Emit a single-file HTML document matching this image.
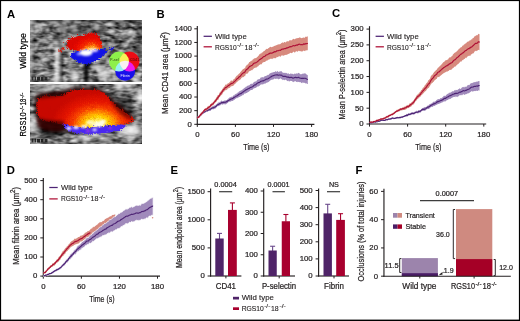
<!DOCTYPE html>
<html><head><meta charset="utf-8"><title>figure</title>
<style>
html,body{margin:0;padding:0;background:#fff;width:520px;height:321px;overflow:hidden;}
svg{display:block;}
.g{will-change:transform;}
text{font-family:"Liberation Sans",sans-serif;}
</style></head><body>
<svg width="520" height="321" viewBox="0 0 520 321">
<rect width="520" height="321" fill="#fff"/>
<g class="g">
<text x="7.00" y="17.60" font-size="11.3" font-weight="bold" fill="#000" >A</text>
<defs>
<filter id="gt1" x="30" y="20" width="112" height="63" filterUnits="userSpaceOnUse" color-interpolation-filters="sRGB">
 <feTurbulence type="fractalNoise" baseFrequency="0.13 0.3" numOctaves="2" seed="3"/>
 <feColorMatrix type="matrix" values="1.1 0 0 0 -0.15  1.1 0 0 0 -0.15  1.1 0 0 0 -0.15  0 0 0 0 1"/>
</filter>
<filter id="gt2" x="30" y="84" width="112" height="60" filterUnits="userSpaceOnUse" color-interpolation-filters="sRGB">
 <feTurbulence type="fractalNoise" baseFrequency="0.12 0.28" numOctaves="2" seed="11"/>
 <feColorMatrix type="matrix" values="1.1 0 0 0 -0.15  1.1 0 0 0 -0.15  1.1 0 0 0 -0.15  0 0 0 0 1"/>
</filter>
<filter id="rag" x="-20%" y="-20%" width="140%" height="140%" color-interpolation-filters="sRGB">
 <feTurbulence type="turbulence" baseFrequency="0.45" numOctaves="2" seed="5" result="t"/>
 <feDisplacementMap in="SourceGraphic" in2="t" scale="4" xChannelSelector="R" yChannelSelector="G" result="d"/>
 <feGaussianBlur in="d" stdDeviation="0.4"/>
</filter>
<filter id="spk" x="-20%" y="-20%" width="140%" height="140%" color-interpolation-filters="sRGB">
 <feTurbulence type="fractalNoise" baseFrequency="0.8" numOctaves="1" seed="2" result="t"/>
 <feColorMatrix in="t" type="matrix" values="0 0 0 0 0.75  0 0 0 0 0.05  0 0 0 0 0  1.6 0 0 0 -0.95" result="dots"/>
 <feComposite in="dots" in2="SourceAlpha" operator="in" result="dc"/>
 <feMerge result="m"><feMergeNode in="SourceGraphic"/><feMergeNode in="dc"/></feMerge>
 <feTurbulence type="turbulence" baseFrequency="0.5" numOctaves="2" seed="8" result="t2"/>
 <feDisplacementMap in="m" in2="t2" scale="4" xChannelSelector="R" yChannelSelector="G" result="d"/>
 <feGaussianBlur in="d" stdDeviation="0.4"/>
</filter>
<filter id="b1" x="-30%" y="-30%" width="160%" height="160%"><feGaussianBlur stdDeviation="1.5"/></filter>
<filter id="b2" x="-30%" y="-30%" width="160%" height="160%"><feGaussianBlur stdDeviation="2.5"/></filter>
<filter id="b06" x="-30%" y="-30%" width="160%" height="160%"><feGaussianBlur stdDeviation="0.65"/></filter>
<filter id="b08" x="-50%" y="-50%" width="200%" height="200%"><feGaussianBlur stdDeviation="0.9"/></filter>
<clipPath id="c1"><rect x="30" y="20" width="112" height="62"/></clipPath>
<clipPath id="c2"><rect x="30" y="83" width="112" height="61"/></clipPath>
<radialGradient id="rg1" gradientUnits="userSpaceOnUse" cx="90" cy="50" r="19" gradientTransform="translate(90 50) scale(1 0.85) translate(-90 -50)"><stop offset="0" stop-color="#fff8d0"/><stop offset="0.14" stop-color="#ffd860"/><stop offset="0.32" stop-color="#ff8a10"/><stop offset="0.55" stop-color="#f42a00"/><stop offset="0.8" stop-color="#ea0c00"/><stop offset="1" stop-color="#dc0600"/></radialGradient>
<radialGradient id="rg2" gradientUnits="userSpaceOnUse" cx="96" cy="123" r="46" gradientTransform="translate(96 123) scale(1 0.7) translate(-96 -123)"><stop offset="0" stop-color="#fffce0"/><stop offset="0.1" stop-color="#fff480"/><stop offset="0.24" stop-color="#ffd400"/><stop offset="0.38" stop-color="#ff9400"/><stop offset="0.52" stop-color="#f84000"/><stop offset="0.72" stop-color="#e41400"/><stop offset="1" stop-color="#c80800"/></radialGradient>
</defs>
<g clip-path="url(#c1)">
<rect x="30" y="20" width="112" height="63" fill="#8c8c8c" filter="url(#gt1)"/>
<g filter="url(#b08)"><ellipse cx="99.8" cy="66.7" rx="4.0" ry="1.3" fill="#fff" opacity="0.72" transform="rotate(6 99.8 66.7)"/><ellipse cx="33.2" cy="49.3" rx="4.4" ry="1.1" fill="#fff" opacity="0.80" transform="rotate(-17 33.2 49.3)"/><ellipse cx="82.5" cy="35.5" rx="3.4" ry="1.1" fill="#fff" opacity="0.36" transform="rotate(-14 82.5 35.5)"/><ellipse cx="61.3" cy="77.7" rx="3.9" ry="0.9" fill="#fff" opacity="0.75" transform="rotate(-16 61.3 77.7)"/><ellipse cx="99.2" cy="28.0" rx="2.0" ry="1.2" fill="#fff" opacity="0.45" transform="rotate(-14 99.2 28.0)"/><ellipse cx="140.0" cy="75.0" rx="2.7" ry="1.3" fill="#fff" opacity="0.62" transform="rotate(-1 140.0 75.0)"/><ellipse cx="52.9" cy="79.3" rx="3.7" ry="1.3" fill="#fff" opacity="0.80" transform="rotate(-12 52.9 79.3)"/><ellipse cx="70.5" cy="30.5" rx="2.4" ry="0.8" fill="#fff" opacity="0.50" transform="rotate(-3 70.5 30.5)"/><ellipse cx="30.4" cy="62.7" rx="2.8" ry="1.0" fill="#fff" opacity="0.76" transform="rotate(-7 30.4 62.7)"/><ellipse cx="65.4" cy="50.3" rx="3.8" ry="0.8" fill="#fff" opacity="0.84" transform="rotate(-19 65.4 50.3)"/><ellipse cx="114.0" cy="73.2" rx="2.0" ry="1.2" fill="#fff" opacity="0.53" transform="rotate(-4 114.0 73.2)"/><ellipse cx="31.0" cy="22.9" rx="2.5" ry="1.3" fill="#fff" opacity="0.45" transform="rotate(1 31.0 22.9)"/><ellipse cx="134.1" cy="79.3" rx="2.9" ry="1.0" fill="#fff" opacity="0.61" transform="rotate(2 134.1 79.3)"/><ellipse cx="42.1" cy="67.1" rx="4.0" ry="1.2" fill="#fff" opacity="0.37" transform="rotate(6 42.1 67.1)"/><ellipse cx="40.2" cy="41.5" rx="3.5" ry="1.3" fill="#fff" opacity="0.52" transform="rotate(6 40.2 41.5)"/><ellipse cx="91.1" cy="39.7" rx="2.8" ry="0.9" fill="#fff" opacity="0.39" transform="rotate(-16 91.1 39.7)"/><ellipse cx="107.2" cy="82.8" rx="2.4" ry="0.8" fill="#fff" opacity="0.84" transform="rotate(-5 107.2 82.8)"/><ellipse cx="75.5" cy="35.0" rx="3.5" ry="1.2" fill="#fff" opacity="0.58" transform="rotate(-8 75.5 35.0)"/><ellipse cx="36.2" cy="77.7" rx="2.1" ry="1.0" fill="#fff" opacity="0.77" transform="rotate(-16 36.2 77.7)"/><ellipse cx="111.9" cy="79.8" rx="3.6" ry="1.2" fill="#fff" opacity="0.40" transform="rotate(-8 111.9 79.8)"/><ellipse cx="46.7" cy="73.2" rx="2.7" ry="1.0" fill="#fff" opacity="0.85" transform="rotate(4 46.7 73.2)"/><ellipse cx="139.3" cy="48.6" rx="3.2" ry="1.2" fill="#fff" opacity="0.59" transform="rotate(-12 139.3 48.6)"/><ellipse cx="75.2" cy="29.2" rx="2.9" ry="1.3" fill="#fff" opacity="0.83" transform="rotate(-2 75.2 29.2)"/><ellipse cx="85.9" cy="41.3" rx="2.2" ry="0.9" fill="#fff" opacity="0.74" transform="rotate(4 85.9 41.3)"/><ellipse cx="70.5" cy="69.5" rx="3.9" ry="1.1" fill="#fff" opacity="0.68" transform="rotate(1 70.5 69.5)"/><ellipse cx="70.7" cy="64.4" rx="2.7" ry="1.0" fill="#fff" opacity="0.73" transform="rotate(-1 70.7 64.4)"/><ellipse cx="62.9" cy="79.6" rx="3.6" ry="1.1" fill="#fff" opacity="0.36" transform="rotate(-5 62.9 79.6)"/><ellipse cx="58.1" cy="62.3" rx="3.2" ry="1.2" fill="#fff" opacity="0.67" transform="rotate(2 58.1 62.3)"/><ellipse cx="69.0" cy="60.6" rx="3.8" ry="1.2" fill="#fff" opacity="0.53" transform="rotate(4 69.0 60.6)"/><ellipse cx="127.4" cy="63.4" rx="4.4" ry="1.3" fill="#fff" opacity="0.61" transform="rotate(-5 127.4 63.4)"/><ellipse cx="48.6" cy="72.7" rx="4.3" ry="1.0" fill="#fff" opacity="0.70" transform="rotate(0 48.6 72.7)"/><ellipse cx="111.8" cy="30.8" rx="4.0" ry="1.1" fill="#fff" opacity="0.68" transform="rotate(-8 111.8 30.8)"/><ellipse cx="99.9" cy="68.8" rx="3.6" ry="1.2" fill="#fff" opacity="0.36" transform="rotate(-16 99.9 68.8)"/><ellipse cx="79.4" cy="61.0" rx="2.5" ry="1.1" fill="#fff" opacity="0.67" transform="rotate(-19 79.4 61.0)"/><ellipse cx="82.8" cy="34.3" rx="2.1" ry="0.9" fill="#fff" opacity="0.51" transform="rotate(-15 82.8 34.3)"/><ellipse cx="51.7" cy="22.2" rx="3.2" ry="1.0" fill="#fff" opacity="0.66" transform="rotate(-3 51.7 22.2)"/><ellipse cx="56.6" cy="76.9" rx="2.0" ry="1.0" fill="#fff" opacity="0.49" transform="rotate(-9 56.6 76.9)"/><ellipse cx="42.9" cy="72.4" rx="2.9" ry="0.8" fill="#fff" opacity="0.66" transform="rotate(-17 42.9 72.4)"/><ellipse cx="91.1" cy="41.4" rx="3.5" ry="1.3" fill="#fff" opacity="0.76" transform="rotate(-8 91.1 41.4)"/><ellipse cx="121.1" cy="60.5" rx="2.9" ry="0.9" fill="#fff" opacity="0.65" transform="rotate(-4 121.1 60.5)"/><ellipse cx="137.2" cy="81.0" rx="3.5" ry="1.0" fill="#fff" opacity="0.80" transform="rotate(-20 137.2 81.0)"/><ellipse cx="42.1" cy="55.6" rx="3.5" ry="0.9" fill="#fff" opacity="0.66" transform="rotate(5 42.1 55.6)"/><ellipse cx="72.1" cy="47.2" rx="2.6" ry="0.9" fill="#fff" opacity="0.84" transform="rotate(-9 72.1 47.2)"/><ellipse cx="137.6" cy="77.6" rx="3.5" ry="0.9" fill="#fff" opacity="0.84" transform="rotate(-6 137.6 77.6)"/><ellipse cx="76.5" cy="40.1" rx="4.5" ry="1.0" fill="#fff" opacity="0.49" transform="rotate(-7 76.5 40.1)"/><ellipse cx="43.7" cy="59.2" rx="3.1" ry="0.9" fill="#fff" opacity="0.74" transform="rotate(3 43.7 59.2)"/><ellipse cx="31.5" cy="53.6" rx="2.7" ry="1.3" fill="#fff" opacity="0.74" transform="rotate(-13 31.5 53.6)"/><ellipse cx="60.0" cy="29.8" rx="4.5" ry="0.9" fill="#fff" opacity="0.65" transform="rotate(-7 60.0 29.8)"/><ellipse cx="102.2" cy="58.0" rx="3.9" ry="0.9" fill="#fff" opacity="0.73" transform="rotate(-12 102.2 58.0)"/><ellipse cx="89.8" cy="41.2" rx="2.7" ry="1.1" fill="#fff" opacity="0.58" transform="rotate(-10 89.8 41.2)"/><ellipse cx="113.4" cy="57.2" rx="2.1" ry="0.9" fill="#fff" opacity="0.58" transform="rotate(6 113.4 57.2)"/><ellipse cx="129.4" cy="54.4" rx="2.0" ry="1.2" fill="#fff" opacity="0.56" transform="rotate(-4 129.4 54.4)"/><ellipse cx="109.3" cy="59.8" rx="3.2" ry="1.3" fill="#fff" opacity="0.54" transform="rotate(-9 109.3 59.8)"/><ellipse cx="125.4" cy="32.4" rx="2.7" ry="1.2" fill="#fff" opacity="0.38" transform="rotate(3 125.4 32.4)"/><ellipse cx="107.8" cy="47.3" rx="2.7" ry="1.2" fill="#fff" opacity="0.81" transform="rotate(-16 107.8 47.3)"/><ellipse cx="83.6" cy="54.6" rx="3.2" ry="1.0" fill="#fff" opacity="0.43" transform="rotate(-4 83.6 54.6)"/><ellipse cx="120.9" cy="24.3" rx="2.6" ry="1.2" fill="#fff" opacity="0.75" transform="rotate(-1 120.9 24.3)"/><ellipse cx="32.9" cy="65.5" rx="4.4" ry="1.3" fill="#fff" opacity="0.70" transform="rotate(-19 32.9 65.5)"/><ellipse cx="124.3" cy="33.8" rx="3.6" ry="1.3" fill="#fff" opacity="0.71" transform="rotate(-16 124.3 33.8)"/><ellipse cx="62.8" cy="77.8" rx="2.4" ry="1.1" fill="#fff" opacity="0.56" transform="rotate(-15 62.8 77.8)"/><ellipse cx="99.7" cy="22.7" rx="2.3" ry="1.0" fill="#fff" opacity="0.39" transform="rotate(-18 99.7 22.7)"/><ellipse cx="94.4" cy="66.8" rx="4.2" ry="0.9" fill="#fff" opacity="0.57" transform="rotate(-11 94.4 66.8)"/><ellipse cx="97.2" cy="50.8" rx="4.3" ry="1.0" fill="#fff" opacity="0.38" transform="rotate(-0 97.2 50.8)"/><ellipse cx="46.9" cy="59.8" rx="3.3" ry="1.3" fill="#fff" opacity="0.63" transform="rotate(-3 46.9 59.8)"/><ellipse cx="59.5" cy="54.8" rx="2.6" ry="1.2" fill="#fff" opacity="0.61" transform="rotate(-16 59.5 54.8)"/><ellipse cx="56.3" cy="43.4" rx="3.8" ry="0.9" fill="#fff" opacity="0.71" transform="rotate(-2 56.3 43.4)"/><ellipse cx="39.5" cy="62.1" rx="2.2" ry="0.9" fill="#fff" opacity="0.65" transform="rotate(-13 39.5 62.1)"/><ellipse cx="128.2" cy="50.3" rx="2.8" ry="1.2" fill="#fff" opacity="0.36" transform="rotate(0 128.2 50.3)"/><ellipse cx="36.0" cy="29.5" rx="4.4" ry="1.1" fill="#fff" opacity="0.46" transform="rotate(-17 36.0 29.5)"/><ellipse cx="138.9" cy="61.9" rx="4.1" ry="0.9" fill="#fff" opacity="0.66" transform="rotate(-10 138.9 61.9)"/><ellipse cx="56.3" cy="41.0" rx="3.5" ry="1.0" fill="#fff" opacity="0.54" transform="rotate(-16 56.3 41.0)"/><ellipse cx="123.1" cy="60.8" rx="4.0" ry="1.0" fill="#fff" opacity="0.78" transform="rotate(-6 123.1 60.8)"/><ellipse cx="96.4" cy="56.1" rx="3.9" ry="1.0" fill="#fff" opacity="0.40" transform="rotate(-19 96.4 56.1)"/><ellipse cx="52.7" cy="22.5" rx="4.2" ry="1.0" fill="#fff" opacity="0.73" transform="rotate(-20 52.7 22.5)"/><ellipse cx="82.7" cy="76.1" rx="3.5" ry="1.0" fill="#fff" opacity="0.58" transform="rotate(-17 82.7 76.1)"/><ellipse cx="47.3" cy="30.0" rx="2.9" ry="1.0" fill="#fff" opacity="0.79" transform="rotate(-16 47.3 30.0)"/><ellipse cx="58.5" cy="37.5" rx="2.4" ry="0.9" fill="#fff" opacity="0.47" transform="rotate(-7 58.5 37.5)"/><ellipse cx="33.6" cy="78.2" rx="2.9" ry="1.3" fill="#fff" opacity="0.69" transform="rotate(-1 33.6 78.2)"/><ellipse cx="82.8" cy="79.6" rx="2.3" ry="1.1" fill="#fff" opacity="0.50" transform="rotate(-1 82.8 79.6)"/><ellipse cx="111.7" cy="30.3" rx="2.5" ry="0.8" fill="#fff" opacity="0.47" transform="rotate(-18 111.7 30.3)"/><ellipse cx="74.9" cy="81.3" rx="2.9" ry="1.0" fill="#fff" opacity="0.58" transform="rotate(-12 74.9 81.3)"/><ellipse cx="112.0" cy="65.2" rx="2.4" ry="0.9" fill="#fff" opacity="0.69" transform="rotate(6 112.0 65.2)"/><ellipse cx="102.3" cy="47.1" rx="4.4" ry="0.8" fill="#fff" opacity="0.38" transform="rotate(2 102.3 47.1)"/><ellipse cx="75.9" cy="22.8" rx="3.4" ry="1.3" fill="#fff" opacity="0.61" transform="rotate(-10 75.9 22.8)"/><ellipse cx="40.5" cy="24.5" rx="4.2" ry="1.0" fill="#fff" opacity="0.82" transform="rotate(-18 40.5 24.5)"/><ellipse cx="57.3" cy="23.2" rx="3.0" ry="0.8" fill="#fff" opacity="0.48" transform="rotate(-9 57.3 23.2)"/><ellipse cx="64.3" cy="23.2" rx="2.1" ry="1.3" fill="#fff" opacity="0.44" transform="rotate(-6 64.3 23.2)"/><ellipse cx="75.1" cy="53.5" rx="2.2" ry="1.0" fill="#fff" opacity="0.40" transform="rotate(-5 75.1 53.5)"/><ellipse cx="133.2" cy="57.7" rx="4.1" ry="0.9" fill="#fff" opacity="0.36" transform="rotate(-5 133.2 57.7)"/><ellipse cx="84.5" cy="56.0" rx="2.9" ry="1.1" fill="#fff" opacity="0.71" transform="rotate(6 84.5 56.0)"/><ellipse cx="64.5" cy="48.3" rx="4.1" ry="0.9" fill="#fff" opacity="0.41" transform="rotate(-11 64.5 48.3)"/><ellipse cx="39.8" cy="68.7" rx="4.0" ry="1.0" fill="#fff" opacity="0.41" transform="rotate(-18 39.8 68.7)"/><ellipse cx="57.4" cy="25.3" rx="3.1" ry="1.1" fill="#fff" opacity="0.47" transform="rotate(-18 57.4 25.3)"/><ellipse cx="108.5" cy="23.0" rx="2.5" ry="0.9" fill="#fff" opacity="0.54" transform="rotate(-17 108.5 23.0)"/><ellipse cx="77.1" cy="39.8" rx="3.9" ry="1.1" fill="#fff" opacity="0.80" transform="rotate(-2 77.1 39.8)"/><ellipse cx="115.1" cy="56.2" rx="3.1" ry="1.2" fill="#fff" opacity="0.68" transform="rotate(7 115.1 56.2)"/><ellipse cx="111.5" cy="64.2" rx="2.7" ry="1.2" fill="#fff" opacity="0.54" transform="rotate(-16 111.5 64.2)"/><ellipse cx="37.4" cy="30.7" rx="2.7" ry="1.1" fill="#fff" opacity="0.49" transform="rotate(-18 37.4 30.7)"/><ellipse cx="115.5" cy="55.1" rx="2.1" ry="0.8" fill="#fff" opacity="0.42" transform="rotate(-10 115.5 55.1)"/><ellipse cx="126.3" cy="79.8" rx="3.5" ry="0.9" fill="#fff" opacity="0.56" transform="rotate(-10 126.3 79.8)"/><ellipse cx="67.0" cy="20.8" rx="3.5" ry="1.2" fill="#fff" opacity="0.71" transform="rotate(-17 67.0 20.8)"/><ellipse cx="89.4" cy="30.8" rx="3.8" ry="1.0" fill="#fff" opacity="0.82" transform="rotate(2 89.4 30.8)"/><ellipse cx="43.2" cy="40.0" rx="4.3" ry="1.0" fill="#fff" opacity="0.57" transform="rotate(-8 43.2 40.0)"/><ellipse cx="116.0" cy="79.0" rx="3.3" ry="1.3" fill="#fff" opacity="0.65" transform="rotate(-17 116.0 79.0)"/><ellipse cx="121.2" cy="46.4" rx="2.1" ry="1.3" fill="#fff" opacity="0.37" transform="rotate(-4 121.2 46.4)"/><ellipse cx="84.0" cy="75.6" rx="3.0" ry="0.9" fill="#fff" opacity="0.49" transform="rotate(-14 84.0 75.6)"/><ellipse cx="93.0" cy="42.5" rx="3.9" ry="0.9" fill="#fff" opacity="0.53" transform="rotate(-13 93.0 42.5)"/><ellipse cx="140.0" cy="72.9" rx="4.1" ry="1.1" fill="#fff" opacity="0.55" transform="rotate(-16 140.0 72.9)"/><ellipse cx="123.1" cy="50.9" rx="2.1" ry="0.9" fill="#fff" opacity="0.40" transform="rotate(0 123.1 50.9)"/><ellipse cx="130.8" cy="32.6" rx="4.0" ry="1.0" fill="#fff" opacity="0.69" transform="rotate(4 130.8 32.6)"/><ellipse cx="99.8" cy="70.4" rx="2.9" ry="0.8" fill="#fff" opacity="0.61" transform="rotate(-4 99.8 70.4)"/><ellipse cx="50.7" cy="44.5" rx="2.8" ry="0.8" fill="#fff" opacity="0.51" transform="rotate(-9 50.7 44.5)"/><ellipse cx="83.3" cy="64.3" rx="3.0" ry="1.3" fill="#fff" opacity="0.76" transform="rotate(6 83.3 64.3)"/><ellipse cx="107.6" cy="62.2" rx="3.3" ry="1.2" fill="#fff" opacity="0.53" transform="rotate(-3 107.6 62.2)"/><ellipse cx="106.1" cy="52.9" rx="2.7" ry="0.8" fill="#fff" opacity="0.39" transform="rotate(-10 106.1 52.9)"/><ellipse cx="95.0" cy="67.9" rx="3.8" ry="1.0" fill="#fff" opacity="0.81" transform="rotate(-12 95.0 67.9)"/><ellipse cx="110.2" cy="24.5" rx="3.9" ry="1.1" fill="#fff" opacity="0.83" transform="rotate(5 110.2 24.5)"/><ellipse cx="107.0" cy="72.8" rx="3.8" ry="1.1" fill="#fff" opacity="0.45" transform="rotate(-6 107.0 72.8)"/><ellipse cx="130.4" cy="35.1" rx="4.4" ry="1.1" fill="#fff" opacity="0.55" transform="rotate(-20 130.4 35.1)"/><ellipse cx="73.7" cy="31.2" rx="3.6" ry="1.2" fill="#fff" opacity="0.81" transform="rotate(-3 73.7 31.2)"/><ellipse cx="73.3" cy="26.9" rx="3.7" ry="1.1" fill="#fff" opacity="0.71" transform="rotate(-10 73.3 26.9)"/><ellipse cx="129.3" cy="33.4" rx="2.8" ry="0.9" fill="#fff" opacity="0.66" transform="rotate(5 129.3 33.4)"/><ellipse cx="48.8" cy="59.9" rx="3.9" ry="0.9" fill="#fff" opacity="0.38" transform="rotate(-4 48.8 59.9)"/><ellipse cx="123.0" cy="75.4" rx="3.8" ry="1.0" fill="#fff" opacity="0.56" transform="rotate(-5 123.0 75.4)"/><ellipse cx="131.3" cy="39.0" rx="2.7" ry="1.1" fill="#fff" opacity="0.83" transform="rotate(-15 131.3 39.0)"/><ellipse cx="33.4" cy="27.3" rx="3.4" ry="1.1" fill="#fff" opacity="0.44" transform="rotate(-15 33.4 27.3)"/><ellipse cx="96.6" cy="60.7" rx="3.7" ry="1.2" fill="#fff" opacity="0.38" transform="rotate(-6 96.6 60.7)"/><ellipse cx="123.5" cy="80.3" rx="2.8" ry="1.2" fill="#fff" opacity="0.67" transform="rotate(6 123.5 80.3)"/><ellipse cx="55.7" cy="63.9" rx="4.1" ry="1.0" fill="#fff" opacity="0.40" transform="rotate(-15 55.7 63.9)"/><ellipse cx="47.5" cy="25.8" rx="2.4" ry="1.1" fill="#fff" opacity="0.40" transform="rotate(1 47.5 25.8)"/><ellipse cx="112.5" cy="71.4" rx="4.0" ry="1.2" fill="#fff" opacity="0.81" transform="rotate(7 112.5 71.4)"/><ellipse cx="100.0" cy="80.8" rx="2.3" ry="0.9" fill="#fff" opacity="0.38" transform="rotate(-14 100.0 80.8)"/><ellipse cx="71.9" cy="48.9" rx="3.7" ry="1.2" fill="#fff" opacity="0.39" transform="rotate(-9 71.9 48.9)"/><ellipse cx="90.9" cy="43.6" rx="2.3" ry="1.1" fill="#fff" opacity="0.54" transform="rotate(-1 90.9 43.6)"/><ellipse cx="85.5" cy="80.6" rx="4.4" ry="0.8" fill="#fff" opacity="0.73" transform="rotate(0 85.5 80.6)"/><ellipse cx="63.1" cy="27.4" rx="3.2" ry="1.0" fill="#fff" opacity="0.72" transform="rotate(6 63.1 27.4)"/><ellipse cx="72.8" cy="38.3" rx="3.2" ry="1.1" fill="#fff" opacity="0.74" transform="rotate(-4 72.8 38.3)"/><ellipse cx="63.1" cy="41.2" rx="4.1" ry="1.1" fill="#fff" opacity="0.38" transform="rotate(-8 63.1 41.2)"/><ellipse cx="56.6" cy="62.0" rx="2.2" ry="0.9" fill="#fff" opacity="0.40" transform="rotate(-7 56.6 62.0)"/><ellipse cx="140.3" cy="54.1" rx="3.0" ry="1.3" fill="#fff" opacity="0.40" transform="rotate(-10 140.3 54.1)"/><ellipse cx="120.8" cy="20.3" rx="3.9" ry="1.0" fill="#fff" opacity="0.36" transform="rotate(-13 120.8 20.3)"/><ellipse cx="81.3" cy="44.1" rx="3.3" ry="0.8" fill="#fff" opacity="0.46" transform="rotate(7 81.3 44.1)"/><ellipse cx="79.6" cy="49.7" rx="2.2" ry="0.9" fill="#fff" opacity="0.83" transform="rotate(-1 79.6 49.7)"/><ellipse cx="86.9" cy="23.3" rx="3.0" ry="1.2" fill="#fff" opacity="0.57" transform="rotate(-3 86.9 23.3)"/><ellipse cx="131.1" cy="60.6" rx="3.6" ry="0.8" fill="#fff" opacity="0.36" transform="rotate(2 131.1 60.6)"/><ellipse cx="76.3" cy="75.1" rx="4.1" ry="1.3" fill="#fff" opacity="0.54" transform="rotate(8 76.3 75.1)"/><ellipse cx="114.7" cy="76.2" rx="2.4" ry="1.2" fill="#fff" opacity="0.56" transform="rotate(7 114.7 76.2)"/><ellipse cx="141.3" cy="33.7" rx="3.1" ry="0.9" fill="#fff" opacity="0.58" transform="rotate(-12 141.3 33.7)"/><ellipse cx="104.6" cy="27.8" rx="2.4" ry="1.0" fill="#fff" opacity="0.39" transform="rotate(-9 104.6 27.8)"/><ellipse cx="130.5" cy="75.8" rx="2.5" ry="0.8" fill="#fff" opacity="0.76" transform="rotate(7 130.5 75.8)"/><ellipse cx="97.1" cy="28.6" rx="2.6" ry="1.3" fill="#fff" opacity="0.82" transform="rotate(-19 97.1 28.6)"/><ellipse cx="50.7" cy="47.0" rx="2.7" ry="1.2" fill="#fff" opacity="0.54" transform="rotate(2 50.7 47.0)"/><ellipse cx="47.0" cy="52.7" rx="4.4" ry="1.2" fill="#fff" opacity="0.40" transform="rotate(-17 47.0 52.7)"/><ellipse cx="102.1" cy="43.6" rx="2.9" ry="1.0" fill="#fff" opacity="0.64" transform="rotate(7 102.1 43.6)"/><ellipse cx="57.0" cy="55.8" rx="2.7" ry="1.1" fill="#fff" opacity="0.72" transform="rotate(-16 57.0 55.8)"/><ellipse cx="83.9" cy="64.5" rx="2.0" ry="1.2" fill="#fff" opacity="0.56" transform="rotate(-6 83.9 64.5)"/><ellipse cx="98.4" cy="70.0" rx="2.1" ry="1.1" fill="#fff" opacity="0.37" transform="rotate(-9 98.4 70.0)"/><ellipse cx="68.7" cy="21.3" rx="2.7" ry="1.0" fill="#fff" opacity="0.68" transform="rotate(6 68.7 21.3)"/><ellipse cx="71.5" cy="53.4" rx="3.8" ry="1.3" fill="#fff" opacity="0.82" transform="rotate(8 71.5 53.4)"/><ellipse cx="63.8" cy="30.5" rx="4.3" ry="0.8" fill="#fff" opacity="0.57" transform="rotate(1 63.8 30.5)"/><ellipse cx="89.2" cy="44.5" rx="4.3" ry="0.9" fill="#fff" opacity="0.63" transform="rotate(3 89.2 44.5)"/><ellipse cx="45.5" cy="42.1" rx="3.2" ry="1.1" fill="#fff" opacity="0.45" transform="rotate(-7 45.5 42.1)"/><ellipse cx="36.7" cy="25.5" rx="2.9" ry="0.9" fill="#fff" opacity="0.83" transform="rotate(-13 36.7 25.5)"/><ellipse cx="60.9" cy="69.4" rx="3.9" ry="0.9" fill="#fff" opacity="0.76" transform="rotate(-2 60.9 69.4)"/><ellipse cx="73.5" cy="59.6" rx="2.6" ry="0.9" fill="#fff" opacity="0.79" transform="rotate(-8 73.5 59.6)"/><ellipse cx="130.5" cy="31.1" rx="2.3" ry="0.8" fill="#fff" opacity="0.72" transform="rotate(-4 130.5 31.1)"/><ellipse cx="31.1" cy="22.7" rx="4.1" ry="1.0" fill="#fff" opacity="0.79" transform="rotate(-19 31.1 22.7)"/><ellipse cx="96.0" cy="27.4" rx="3.8" ry="1.1" fill="#fff" opacity="0.66" transform="rotate(-14 96.0 27.4)"/><ellipse cx="136.3" cy="27.0" rx="2.2" ry="1.1" fill="#fff" opacity="0.40" transform="rotate(-18 136.3 27.0)"/><ellipse cx="81.6" cy="60.9" rx="4.2" ry="1.2" fill="#fff" opacity="0.38" transform="rotate(-2 81.6 60.9)"/><ellipse cx="124.5" cy="27.6" rx="4.3" ry="1.0" fill="#000" opacity="0.42" transform="rotate(-30 124.5 27.6)"/><ellipse cx="114.9" cy="52.5" rx="4.7" ry="1.2" fill="#000" opacity="0.36" transform="rotate(-21 114.9 52.5)"/><ellipse cx="59.5" cy="79.6" rx="2.6" ry="0.9" fill="#000" opacity="0.44" transform="rotate(-27 59.5 79.6)"/><ellipse cx="77.6" cy="59.2" rx="4.0" ry="0.9" fill="#000" opacity="0.36" transform="rotate(-10 77.6 59.2)"/><ellipse cx="107.0" cy="48.2" rx="3.7" ry="1.5" fill="#000" opacity="0.36" transform="rotate(-19 107.0 48.2)"/><ellipse cx="85.3" cy="53.8" rx="4.7" ry="1.2" fill="#000" opacity="0.56" transform="rotate(-13 85.3 53.8)"/><ellipse cx="117.8" cy="72.7" rx="2.9" ry="0.9" fill="#000" opacity="0.40" transform="rotate(-16 117.8 72.7)"/><ellipse cx="129.6" cy="36.7" rx="3.9" ry="1.3" fill="#000" opacity="0.68" transform="rotate(-25 129.6 36.7)"/><ellipse cx="116.2" cy="41.2" rx="2.3" ry="1.3" fill="#000" opacity="0.64" transform="rotate(-7 116.2 41.2)"/><ellipse cx="35.6" cy="81.2" rx="3.2" ry="1.3" fill="#000" opacity="0.59" transform="rotate(-20 35.6 81.2)"/><ellipse cx="75.7" cy="40.7" rx="2.3" ry="0.9" fill="#000" opacity="0.59" transform="rotate(-14 75.7 40.7)"/><ellipse cx="127.4" cy="24.0" rx="2.9" ry="0.9" fill="#000" opacity="0.68" transform="rotate(2 127.4 24.0)"/><ellipse cx="130.4" cy="51.9" rx="2.3" ry="1.1" fill="#000" opacity="0.39" transform="rotate(-29 130.4 51.9)"/><ellipse cx="93.3" cy="38.3" rx="2.3" ry="1.2" fill="#000" opacity="0.67" transform="rotate(8 93.3 38.3)"/><ellipse cx="82.2" cy="26.5" rx="4.3" ry="0.9" fill="#000" opacity="0.51" transform="rotate(-27 82.2 26.5)"/><ellipse cx="140.6" cy="54.2" rx="3.3" ry="1.0" fill="#000" opacity="0.52" transform="rotate(9 140.6 54.2)"/><ellipse cx="77.9" cy="33.2" rx="3.5" ry="1.5" fill="#000" opacity="0.45" transform="rotate(-5 77.9 33.2)"/><ellipse cx="132.9" cy="40.5" rx="4.4" ry="1.2" fill="#000" opacity="0.36" transform="rotate(-28 132.9 40.5)"/><ellipse cx="135.2" cy="49.4" rx="3.3" ry="1.5" fill="#000" opacity="0.53" transform="rotate(-10 135.2 49.4)"/><ellipse cx="61.8" cy="66.9" rx="2.8" ry="1.2" fill="#000" opacity="0.60" transform="rotate(-6 61.8 66.9)"/><ellipse cx="45.0" cy="32.8" rx="4.1" ry="1.4" fill="#000" opacity="0.34" transform="rotate(10 45.0 32.8)"/><ellipse cx="44.9" cy="30.6" rx="2.3" ry="1.2" fill="#000" opacity="0.55" transform="rotate(4 44.9 30.6)"/><ellipse cx="48.3" cy="64.0" rx="2.3" ry="1.3" fill="#000" opacity="0.40" transform="rotate(-16 48.3 64.0)"/><ellipse cx="35.9" cy="65.4" rx="2.4" ry="1.4" fill="#000" opacity="0.43" transform="rotate(-6 35.9 65.4)"/><ellipse cx="101.6" cy="50.8" rx="4.6" ry="1.5" fill="#000" opacity="0.41" transform="rotate(-17 101.6 50.8)"/><ellipse cx="128.2" cy="28.4" rx="3.3" ry="1.1" fill="#000" opacity="0.69" transform="rotate(-25 128.2 28.4)"/><ellipse cx="103.4" cy="67.7" rx="4.2" ry="0.8" fill="#000" opacity="0.68" transform="rotate(-18 103.4 67.7)"/><ellipse cx="125.5" cy="61.7" rx="3.3" ry="1.5" fill="#000" opacity="0.57" transform="rotate(-16 125.5 61.7)"/><ellipse cx="112.0" cy="51.8" rx="4.1" ry="1.3" fill="#000" opacity="0.62" transform="rotate(-24 112.0 51.8)"/><ellipse cx="85.4" cy="20.1" rx="4.4" ry="1.4" fill="#000" opacity="0.63" transform="rotate(-28 85.4 20.1)"/></g>
<g filter="url(#b1)">
  <rect x="29" y="20" width="2" height="63" fill="#ddd" opacity="0.6"/>
  <rect x="31.5" y="20" width="2" height="63" fill="#000" opacity="0.5"/>
  <rect x="55" y="46" width="3.5" height="37" fill="#fff" opacity="0.8"/>
  <rect x="59" y="42" width="4" height="41" fill="#000" opacity="0.55"/>
  <rect x="30" y="20" width="112" height="1.8" fill="#000" opacity="0.6"/>
  <ellipse cx="74" cy="76" rx="5" ry="6" fill="#fff" opacity="0.6"/>
  <ellipse cx="104" cy="74" rx="7" ry="7" fill="#fff" opacity="0.55"/>
  <rect x="136" y="20" width="6" height="40" fill="#000" opacity="0.3"/>
  <path d="M56,50 L72,34" stroke="#fff" stroke-width="2" opacity="0.4"/>
  <path d="M60,52 L76,38" stroke="#fff" stroke-width="1.5" opacity="0.35"/>
 </g>
<g filter="url(#b1)"><rect x="84" y="59" width="4.5" height="24" fill="#000" opacity="0.95"/><rect x="60" y="26" width="44" height="8" fill="#000" opacity="0.3"/></g>
<g filter="url(#spk)">
  <path d="M65.3,42.2 C65,40.5 65.8,39.5 66.6,39.1 C67.5,37.8 68.5,37.2 69.7,37.2 C70.8,36 72,35.3 73.4,35.3 C74.8,34.3 76.3,33.8 77.8,34.1 C79,34.5 80,35.3 80.9,35.3 C82,34 83.3,33 84.6,32.8 C85.8,31.8 87,31.6 88.4,31.6 C90,30.8 92,30.9 93.4,31.6 C95.3,32.2 96.5,33.5 97.1,34.7 C98.6,36.3 99.4,38 99.6,39.7 C100.4,41.3 100.5,43 100.2,44.7 C100.3,46 100,47 99.6,48.2 L78.4,49.5 C74,49 70,48.5 67.2,47.2 C65.5,46 65,44 65.3,42.2 Z" fill="url(#rg1)"/>
  <circle cx="59" cy="49" r="1.6" fill="#e01000"/>
  <circle cx="62" cy="46.5" r="1.2" fill="#e01000"/>
 </g>
 <g filter="url(#rag)">
  <path d="M70.3,52.8 C73,51 76,50 78.4,49.7 C86,49 95,48.3 102.1,47.8 C104,48.3 105.6,49.2 106.4,50.3 C105.8,52 104.8,53 103.3,54 C101.5,55.8 99.5,57.2 97.1,58.4 C95,60 93,61.2 90.9,62.1 C89.2,62.9 87.6,63.4 85.9,63.4 C83,63.2 80.6,62.5 78.4,61.5 C76.5,60.8 74.8,60 73.4,59 C72,58 70.8,57 70.3,55.9 C69.8,54.8 69.8,53.8 70.3,52.8 Z" fill="#1212e6"/>
  <circle cx="110.8" cy="47.2" r="1.5" fill="#1212e6"/>
 </g>
 <g filter="url(#b08)">
  <ellipse cx="86" cy="52.8" rx="6.5" ry="3.2" fill="#fff"/>
  <ellipse cx="94" cy="50.3" rx="4" ry="1.8" fill="#fff0ff" opacity="0.9"/>
  <ellipse cx="79" cy="54" rx="2.5" ry="1.4" fill="#c8c8ff" opacity="0.8"/>
 </g>
 <g filter="url(#b06)" fill="#111" opacity="0.75">
  <rect x="31.5" y="76.5" width="2" height="4"/><rect x="34.5" y="76.5" width="1.5" height="4"/><rect x="37" y="77" width="3" height="3.5"/><rect x="41" y="77" width="2.5" height="3.5"/><rect x="44.5" y="77" width="3" height="3.5"/>
 </g>
 <g style="isolation:isolate">
  <circle cx="119" cy="61.5" r="10" fill="#8ef04a"/>
  <circle cx="129.5" cy="61.5" r="10" fill="#ec0c14" style="mix-blend-mode:screen"/>
  <circle cx="125.2" cy="70.7" r="10" fill="#1810ea" style="mix-blend-mode:screen"/>
 </g>
 <text x="114.3" y="61.3" font-size="3.8" text-anchor="middle" fill="#2a3a10">P-sel</text>
 <text x="134.5" y="61.3" font-size="3.8" text-anchor="middle" fill="#400">CD41</text>
 <text x="125.2" y="77.2" font-size="3.8" text-anchor="middle" fill="#e8e8ff">Fibrin</text>
</g>
<g clip-path="url(#c2)">
<rect x="30" y="83" width="112" height="61" fill="#808080" filter="url(#gt2)"/>
<g filter="url(#b08)"><ellipse cx="81.9" cy="106.4" rx="2.3" ry="1.2" fill="#fff" opacity="0.35" transform="rotate(-6 81.9 106.4)"/><ellipse cx="130.6" cy="88.8" rx="3.4" ry="1.1" fill="#fff" opacity="0.37" transform="rotate(-9 130.6 88.8)"/><ellipse cx="108.8" cy="111.1" rx="3.8" ry="0.9" fill="#fff" opacity="0.47" transform="rotate(-17 108.8 111.1)"/><ellipse cx="86.7" cy="139.4" rx="3.5" ry="1.2" fill="#fff" opacity="0.54" transform="rotate(1 86.7 139.4)"/><ellipse cx="41.4" cy="101.5" rx="3.7" ry="1.2" fill="#fff" opacity="0.56" transform="rotate(-18 41.4 101.5)"/><ellipse cx="59.9" cy="96.6" rx="2.7" ry="1.2" fill="#fff" opacity="0.45" transform="rotate(5 59.9 96.6)"/><ellipse cx="128.5" cy="87.3" rx="2.9" ry="1.0" fill="#fff" opacity="0.36" transform="rotate(-8 128.5 87.3)"/><ellipse cx="131.5" cy="90.7" rx="3.5" ry="0.9" fill="#fff" opacity="0.64" transform="rotate(5 131.5 90.7)"/><ellipse cx="52.7" cy="84.5" rx="2.2" ry="1.1" fill="#fff" opacity="0.36" transform="rotate(-18 52.7 84.5)"/><ellipse cx="85.6" cy="139.3" rx="3.1" ry="1.0" fill="#fff" opacity="0.67" transform="rotate(-17 85.6 139.3)"/><ellipse cx="94.9" cy="94.4" rx="3.5" ry="1.3" fill="#fff" opacity="0.38" transform="rotate(-4 94.9 94.4)"/><ellipse cx="97.9" cy="93.0" rx="2.7" ry="1.3" fill="#fff" opacity="0.85" transform="rotate(-17 97.9 93.0)"/><ellipse cx="109.0" cy="141.1" rx="2.6" ry="1.1" fill="#fff" opacity="0.37" transform="rotate(-10 109.0 141.1)"/><ellipse cx="105.5" cy="119.4" rx="3.9" ry="0.8" fill="#fff" opacity="0.52" transform="rotate(4 105.5 119.4)"/><ellipse cx="95.4" cy="111.1" rx="3.0" ry="1.3" fill="#fff" opacity="0.64" transform="rotate(-19 95.4 111.1)"/><ellipse cx="119.5" cy="103.7" rx="3.1" ry="0.9" fill="#fff" opacity="0.57" transform="rotate(-11 119.5 103.7)"/><ellipse cx="39.9" cy="121.8" rx="2.3" ry="1.2" fill="#fff" opacity="0.36" transform="rotate(2 39.9 121.8)"/><ellipse cx="120.4" cy="113.8" rx="3.8" ry="0.9" fill="#fff" opacity="0.72" transform="rotate(-8 120.4 113.8)"/><ellipse cx="55.9" cy="141.8" rx="3.0" ry="1.0" fill="#fff" opacity="0.78" transform="rotate(-10 55.9 141.8)"/><ellipse cx="104.8" cy="94.3" rx="4.1" ry="0.9" fill="#fff" opacity="0.38" transform="rotate(7 104.8 94.3)"/><ellipse cx="49.3" cy="140.8" rx="4.5" ry="1.1" fill="#fff" opacity="0.36" transform="rotate(-18 49.3 140.8)"/><ellipse cx="53.4" cy="107.3" rx="3.5" ry="1.3" fill="#fff" opacity="0.53" transform="rotate(-16 53.4 107.3)"/><ellipse cx="92.9" cy="92.2" rx="2.2" ry="1.1" fill="#fff" opacity="0.70" transform="rotate(-18 92.9 92.2)"/><ellipse cx="80.6" cy="126.2" rx="3.9" ry="1.0" fill="#fff" opacity="0.79" transform="rotate(-15 80.6 126.2)"/><ellipse cx="110.1" cy="130.3" rx="4.2" ry="1.0" fill="#fff" opacity="0.40" transform="rotate(-19 110.1 130.3)"/><ellipse cx="89.2" cy="94.4" rx="3.6" ry="0.8" fill="#fff" opacity="0.74" transform="rotate(-14 89.2 94.4)"/><ellipse cx="31.5" cy="94.6" rx="3.1" ry="1.1" fill="#fff" opacity="0.54" transform="rotate(-15 31.5 94.6)"/><ellipse cx="84.0" cy="140.8" rx="3.3" ry="1.3" fill="#fff" opacity="0.36" transform="rotate(8 84.0 140.8)"/><ellipse cx="129.6" cy="116.7" rx="3.3" ry="1.1" fill="#fff" opacity="0.80" transform="rotate(-18 129.6 116.7)"/><ellipse cx="102.0" cy="116.5" rx="2.8" ry="1.2" fill="#fff" opacity="0.71" transform="rotate(-17 102.0 116.5)"/><ellipse cx="108.3" cy="111.2" rx="3.2" ry="1.1" fill="#fff" opacity="0.38" transform="rotate(-3 108.3 111.2)"/><ellipse cx="71.8" cy="136.7" rx="2.6" ry="1.2" fill="#fff" opacity="0.71" transform="rotate(-3 71.8 136.7)"/><ellipse cx="128.1" cy="86.2" rx="3.5" ry="1.1" fill="#fff" opacity="0.69" transform="rotate(-9 128.1 86.2)"/><ellipse cx="37.7" cy="95.3" rx="3.5" ry="0.9" fill="#fff" opacity="0.38" transform="rotate(-10 37.7 95.3)"/><ellipse cx="82.7" cy="116.1" rx="2.1" ry="1.2" fill="#fff" opacity="0.52" transform="rotate(2 82.7 116.1)"/><ellipse cx="31.0" cy="141.2" rx="3.5" ry="1.3" fill="#fff" opacity="0.84" transform="rotate(3 31.0 141.2)"/><ellipse cx="41.9" cy="104.9" rx="2.6" ry="1.2" fill="#fff" opacity="0.45" transform="rotate(-14 41.9 104.9)"/><ellipse cx="42.4" cy="91.2" rx="4.3" ry="1.3" fill="#fff" opacity="0.54" transform="rotate(1 42.4 91.2)"/><ellipse cx="82.4" cy="115.3" rx="2.9" ry="1.1" fill="#fff" opacity="0.47" transform="rotate(-13 82.4 115.3)"/><ellipse cx="88.0" cy="95.8" rx="3.1" ry="1.3" fill="#fff" opacity="0.36" transform="rotate(-17 88.0 95.8)"/><ellipse cx="119.6" cy="87.5" rx="2.6" ry="1.2" fill="#fff" opacity="0.65" transform="rotate(-14 119.6 87.5)"/><ellipse cx="36.6" cy="100.5" rx="2.8" ry="1.2" fill="#fff" opacity="0.84" transform="rotate(2 36.6 100.5)"/><ellipse cx="131.0" cy="139.8" rx="4.2" ry="1.3" fill="#fff" opacity="0.83" transform="rotate(-17 131.0 139.8)"/><ellipse cx="65.6" cy="98.8" rx="3.5" ry="1.0" fill="#fff" opacity="0.52" transform="rotate(3 65.6 98.8)"/><ellipse cx="74.7" cy="96.5" rx="2.7" ry="1.0" fill="#fff" opacity="0.66" transform="rotate(-4 74.7 96.5)"/><ellipse cx="79.3" cy="95.2" rx="3.0" ry="1.0" fill="#fff" opacity="0.44" transform="rotate(-5 79.3 95.2)"/><ellipse cx="51.1" cy="126.7" rx="3.6" ry="0.9" fill="#fff" opacity="0.66" transform="rotate(-11 51.1 126.7)"/><ellipse cx="80.1" cy="120.4" rx="3.9" ry="1.2" fill="#fff" opacity="0.72" transform="rotate(-14 80.1 120.4)"/><ellipse cx="90.7" cy="104.1" rx="2.0" ry="1.1" fill="#fff" opacity="0.59" transform="rotate(4 90.7 104.1)"/><ellipse cx="66.3" cy="134.0" rx="3.3" ry="0.8" fill="#fff" opacity="0.71" transform="rotate(-12 66.3 134.0)"/><ellipse cx="89.8" cy="88.3" rx="2.0" ry="1.3" fill="#fff" opacity="0.37" transform="rotate(-16 89.8 88.3)"/><ellipse cx="48.3" cy="89.8" rx="4.1" ry="1.3" fill="#fff" opacity="0.67" transform="rotate(-9 48.3 89.8)"/><ellipse cx="129.5" cy="114.4" rx="2.3" ry="1.1" fill="#fff" opacity="0.53" transform="rotate(-12 129.5 114.4)"/><ellipse cx="65.9" cy="107.1" rx="2.5" ry="1.1" fill="#fff" opacity="0.78" transform="rotate(-4 65.9 107.1)"/><ellipse cx="31.1" cy="125.1" rx="2.1" ry="1.0" fill="#fff" opacity="0.78" transform="rotate(-1 31.1 125.1)"/><ellipse cx="131.7" cy="129.3" rx="2.7" ry="0.9" fill="#fff" opacity="0.58" transform="rotate(-1 131.7 129.3)"/><ellipse cx="56.0" cy="103.9" rx="3.9" ry="1.0" fill="#fff" opacity="0.65" transform="rotate(-5 56.0 103.9)"/><ellipse cx="134.0" cy="85.6" rx="2.5" ry="1.2" fill="#fff" opacity="0.68" transform="rotate(-17 134.0 85.6)"/><ellipse cx="45.1" cy="96.6" rx="3.4" ry="1.3" fill="#fff" opacity="0.46" transform="rotate(-14 45.1 96.6)"/><ellipse cx="106.8" cy="109.4" rx="4.1" ry="1.3" fill="#fff" opacity="0.82" transform="rotate(0 106.8 109.4)"/><ellipse cx="85.6" cy="87.7" rx="4.0" ry="1.0" fill="#fff" opacity="0.58" transform="rotate(-2 85.6 87.7)"/><ellipse cx="138.0" cy="117.4" rx="4.3" ry="1.3" fill="#fff" opacity="0.39" transform="rotate(-10 138.0 117.4)"/><ellipse cx="129.5" cy="130.0" rx="4.4" ry="0.9" fill="#fff" opacity="0.62" transform="rotate(6 129.5 130.0)"/><ellipse cx="90.5" cy="124.2" rx="4.4" ry="0.9" fill="#fff" opacity="0.38" transform="rotate(4 90.5 124.2)"/><ellipse cx="95.1" cy="96.0" rx="4.1" ry="0.9" fill="#fff" opacity="0.41" transform="rotate(-12 95.1 96.0)"/><ellipse cx="34.0" cy="108.3" rx="3.9" ry="1.0" fill="#fff" opacity="0.83" transform="rotate(-19 34.0 108.3)"/><ellipse cx="49.4" cy="92.6" rx="3.4" ry="0.9" fill="#fff" opacity="0.68" transform="rotate(-5 49.4 92.6)"/><ellipse cx="95.1" cy="134.7" rx="4.0" ry="1.3" fill="#fff" opacity="0.43" transform="rotate(-9 95.1 134.7)"/><ellipse cx="137.6" cy="107.8" rx="2.7" ry="1.0" fill="#fff" opacity="0.44" transform="rotate(4 137.6 107.8)"/><ellipse cx="101.2" cy="89.7" rx="4.4" ry="1.1" fill="#fff" opacity="0.48" transform="rotate(-3 101.2 89.7)"/><ellipse cx="136.4" cy="104.8" rx="2.0" ry="0.9" fill="#fff" opacity="0.38" transform="rotate(-5 136.4 104.8)"/><ellipse cx="64.9" cy="135.1" rx="2.5" ry="0.8" fill="#fff" opacity="0.58" transform="rotate(-17 64.9 135.1)"/><ellipse cx="64.8" cy="97.5" rx="2.4" ry="1.1" fill="#fff" opacity="0.82" transform="rotate(-10 64.8 97.5)"/><ellipse cx="101.5" cy="103.4" rx="4.3" ry="1.1" fill="#fff" opacity="0.36" transform="rotate(1 101.5 103.4)"/><ellipse cx="53.5" cy="86.8" rx="2.0" ry="1.2" fill="#fff" opacity="0.70" transform="rotate(-10 53.5 86.8)"/><ellipse cx="92.5" cy="126.3" rx="2.2" ry="1.2" fill="#fff" opacity="0.70" transform="rotate(6 92.5 126.3)"/><ellipse cx="36.6" cy="118.3" rx="3.3" ry="1.2" fill="#fff" opacity="0.53" transform="rotate(-1 36.6 118.3)"/><ellipse cx="130.5" cy="104.9" rx="3.3" ry="1.2" fill="#fff" opacity="0.37" transform="rotate(7 130.5 104.9)"/><ellipse cx="65.1" cy="111.4" rx="2.7" ry="1.2" fill="#fff" opacity="0.62" transform="rotate(1 65.1 111.4)"/><ellipse cx="41.6" cy="136.8" rx="4.1" ry="1.1" fill="#fff" opacity="0.46" transform="rotate(-13 41.6 136.8)"/><ellipse cx="80.6" cy="87.9" rx="4.4" ry="1.0" fill="#fff" opacity="0.83" transform="rotate(-15 80.6 87.9)"/><ellipse cx="102.6" cy="131.9" rx="3.6" ry="1.0" fill="#fff" opacity="0.36" transform="rotate(-8 102.6 131.9)"/><ellipse cx="73.7" cy="140.7" rx="4.4" ry="1.3" fill="#fff" opacity="0.84" transform="rotate(-15 73.7 140.7)"/><ellipse cx="33.3" cy="101.5" rx="2.0" ry="0.9" fill="#fff" opacity="0.64" transform="rotate(-14 33.3 101.5)"/><ellipse cx="98.4" cy="106.8" rx="2.7" ry="1.3" fill="#fff" opacity="0.44" transform="rotate(5 98.4 106.8)"/><ellipse cx="89.0" cy="123.8" rx="2.4" ry="1.2" fill="#fff" opacity="0.79" transform="rotate(-14 89.0 123.8)"/><ellipse cx="83.0" cy="123.2" rx="3.2" ry="1.2" fill="#fff" opacity="0.67" transform="rotate(-11 83.0 123.2)"/><ellipse cx="106.3" cy="130.4" rx="3.2" ry="1.1" fill="#fff" opacity="0.67" transform="rotate(-7 106.3 130.4)"/><ellipse cx="39.9" cy="108.5" rx="3.9" ry="1.2" fill="#fff" opacity="0.39" transform="rotate(-7 39.9 108.5)"/><ellipse cx="95.8" cy="116.0" rx="2.4" ry="1.1" fill="#fff" opacity="0.70" transform="rotate(-5 95.8 116.0)"/><ellipse cx="135.2" cy="118.7" rx="2.0" ry="1.0" fill="#000" opacity="0.58" transform="rotate(-27 135.2 118.7)"/><ellipse cx="138.1" cy="125.9" rx="4.3" ry="0.9" fill="#000" opacity="0.30" transform="rotate(5 138.1 125.9)"/><ellipse cx="87.2" cy="110.5" rx="3.6" ry="1.4" fill="#000" opacity="0.45" transform="rotate(1 87.2 110.5)"/><ellipse cx="48.1" cy="142.8" rx="4.1" ry="1.1" fill="#000" opacity="0.49" transform="rotate(5 48.1 142.8)"/><ellipse cx="66.5" cy="125.9" rx="4.7" ry="1.6" fill="#000" opacity="0.40" transform="rotate(2 66.5 125.9)"/><ellipse cx="98.2" cy="132.5" rx="2.2" ry="1.1" fill="#000" opacity="0.48" transform="rotate(3 98.2 132.5)"/><ellipse cx="80.6" cy="86.5" rx="2.6" ry="1.5" fill="#000" opacity="0.65" transform="rotate(-7 80.6 86.5)"/><ellipse cx="38.9" cy="130.4" rx="4.6" ry="1.0" fill="#000" opacity="0.49" transform="rotate(-18 38.9 130.4)"/><ellipse cx="36.0" cy="128.0" rx="2.5" ry="0.9" fill="#000" opacity="0.66" transform="rotate(-26 36.0 128.0)"/><ellipse cx="115.1" cy="132.9" rx="2.8" ry="1.1" fill="#000" opacity="0.39" transform="rotate(-2 115.1 132.9)"/><ellipse cx="139.0" cy="128.6" rx="3.5" ry="1.2" fill="#000" opacity="0.46" transform="rotate(-1 139.0 128.6)"/><ellipse cx="60.2" cy="98.7" rx="4.1" ry="1.0" fill="#000" opacity="0.70" transform="rotate(-1 60.2 98.7)"/><ellipse cx="50.6" cy="85.3" rx="3.8" ry="0.9" fill="#000" opacity="0.50" transform="rotate(-6 50.6 85.3)"/><ellipse cx="120.6" cy="107.3" rx="3.6" ry="1.5" fill="#000" opacity="0.35" transform="rotate(-17 120.6 107.3)"/><ellipse cx="120.6" cy="105.5" rx="4.8" ry="0.9" fill="#000" opacity="0.33" transform="rotate(-15 120.6 105.5)"/><ellipse cx="82.0" cy="106.1" rx="2.7" ry="1.2" fill="#000" opacity="0.66" transform="rotate(8 82.0 106.1)"/><ellipse cx="100.1" cy="99.4" rx="3.7" ry="0.9" fill="#000" opacity="0.33" transform="rotate(2 100.1 99.4)"/><ellipse cx="59.9" cy="93.6" rx="4.5" ry="0.9" fill="#000" opacity="0.39" transform="rotate(-24 59.9 93.6)"/><ellipse cx="129.9" cy="124.9" rx="2.5" ry="0.9" fill="#000" opacity="0.66" transform="rotate(-25 129.9 124.9)"/><ellipse cx="110.0" cy="125.4" rx="3.8" ry="1.2" fill="#000" opacity="0.47" transform="rotate(-19 110.0 125.4)"/><ellipse cx="102.4" cy="93.0" rx="3.4" ry="1.0" fill="#000" opacity="0.45" transform="rotate(6 102.4 93.0)"/><ellipse cx="93.5" cy="122.7" rx="3.9" ry="0.8" fill="#000" opacity="0.61" transform="rotate(5 93.5 122.7)"/><ellipse cx="113.6" cy="115.3" rx="4.5" ry="1.6" fill="#000" opacity="0.41" transform="rotate(-23 113.6 115.3)"/><ellipse cx="67.8" cy="85.1" rx="2.7" ry="0.9" fill="#000" opacity="0.30" transform="rotate(-14 67.8 85.1)"/><ellipse cx="30.7" cy="112.8" rx="4.6" ry="1.4" fill="#000" opacity="0.32" transform="rotate(-1 30.7 112.8)"/><ellipse cx="51.3" cy="132.3" rx="3.9" ry="1.2" fill="#000" opacity="0.47" transform="rotate(9 51.3 132.3)"/><ellipse cx="53.5" cy="137.9" rx="2.6" ry="0.9" fill="#000" opacity="0.39" transform="rotate(-29 53.5 137.9)"/><ellipse cx="123.0" cy="95.1" rx="3.7" ry="1.0" fill="#000" opacity="0.44" transform="rotate(1 123.0 95.1)"/><ellipse cx="91.5" cy="100.0" rx="4.2" ry="0.9" fill="#000" opacity="0.32" transform="rotate(-2 91.5 100.0)"/><ellipse cx="125.5" cy="129.9" rx="4.1" ry="1.5" fill="#000" opacity="0.67" transform="rotate(-7 125.5 129.9)"/><ellipse cx="49.9" cy="118.8" rx="3.3" ry="1.4" fill="#000" opacity="0.44" transform="rotate(-27 49.9 118.8)"/><ellipse cx="51.7" cy="92.5" rx="4.2" ry="1.4" fill="#000" opacity="0.51" transform="rotate(-17 51.7 92.5)"/><ellipse cx="111.6" cy="110.9" rx="3.5" ry="1.0" fill="#000" opacity="0.70" transform="rotate(-12 111.6 110.9)"/><ellipse cx="82.8" cy="96.5" rx="3.3" ry="1.2" fill="#000" opacity="0.47" transform="rotate(-0 82.8 96.5)"/><ellipse cx="67.5" cy="121.4" rx="4.0" ry="0.9" fill="#000" opacity="0.63" transform="rotate(-27 67.5 121.4)"/></g>
<g filter="url(#b2)">
  <ellipse cx="120" cy="85" rx="7" ry="3" fill="#fff" opacity="0.95"/>
  <ellipse cx="141" cy="97" rx="4" ry="7" fill="#fff" opacity="1"/>
  <ellipse cx="130" cy="130" rx="12" ry="6" fill="#fff" opacity="0.85"/>
  <ellipse cx="95" cy="137" rx="22" ry="3" fill="#fff" opacity="0.55"/>
  <ellipse cx="33" cy="124" rx="4" ry="10" fill="#fff" opacity="0.7"/>
  <ellipse cx="52" cy="86" rx="20" ry="3" fill="#fff" opacity="0.55"/>
  <ellipse cx="68" cy="86" rx="6" ry="4" fill="#fff" opacity="0.7"/>
  <rect x="38" y="124" width="26" height="12" fill="#000" opacity="0.6"/>
  <ellipse cx="124" cy="106" rx="9" ry="9" fill="#000" opacity="0.45"/>
 </g>
 <g filter="url(#b06)" fill="#111" opacity="0.8">
  <rect x="31.5" y="138.5" width="2" height="4"/><rect x="34.5" y="138.5" width="1.5" height="4"/><rect x="37" y="139" width="3" height="3.5"/><rect x="41" y="139" width="2.5" height="3.5"/><rect x="44.5" y="139" width="3" height="3.5"/>
 </g>
 <g filter="url(#b1)">
  <path d="M34,100 C34,95 38,93 43,92.3 C50,92 57,92 64,90 C70,87 78,86.5 90,86.5 C98,87 104,89.5 108,94.5 C114,100 120,105.5 127,111 C132,114.5 136,118 133,121 C126,125 110,128 95,130 C80,132 60,133 46,131 C38,128 34,114 34,100 Z" fill="#1a0000" opacity="0.8"/>
 </g>
 <g filter="url(#spk)">
  <path d="M35.4,101.2 C35.6,99.5 36.4,98 37.5,96.9 C39,95.5 41,94.6 42.9,94.3 C46,94 49,94.6 51.5,94.8 C54.5,94.5 57.5,94 60.2,93.7 C62.2,93.2 64,92.4 65.5,91.5 C67.2,90.3 69,89.3 70.9,88.7 C74,88 77,87.9 79.5,87.9 C83,87.8 87,87.8 90.3,87.9 C93.5,88.1 96.5,88.6 98.9,89.4 C101,90.2 103,91.3 104.3,92.6 C105.5,94 106.6,95.5 107.5,96.9 C109.3,98.8 111.2,100.6 112.9,102.3 C114,103.5 115,104.6 116.2,105.5 C117.5,106.7 119,107.8 120.5,108.8 C123,110.6 126,112.5 128.5,114.3 C130.5,115.8 132.3,117.2 133.4,118.6 C131.5,120.5 128,121.5 124.5,122.5 C118,124 110,125 100,126 C88,127 74,127 62.3,123 C56,121.5 48,120 42,119 C39.5,118.5 38,117.5 37.2,116 C36,112 35.3,106 35.4,101.2 Z" fill="url(#rg2)"/>
 </g>
 <g filter="url(#b1)">
  <path d="M36,117 C44,120 54,121 64,121 L63,130 C54,131 44,130 38,127 Z" fill="#3a0000" opacity="0.7"/>
  <path d="M110,99 C116,102 122,107 128,113 C131,116 133,118 132,119.5 C128,119 124,117 120,114 C116,110 112,105 110,99 Z" fill="#400000" opacity="0.55"/>
  <path d="M38,96 C46,94.5 56,95 64,92.5 L65,95.5 C56,97.5 46,98 38,99 Z" fill="#400000" opacity="0.35"/>
  <path d="M40,95 C48,93 56,93 64,91 L66,94 C58,96 48,97 40,98 Z" fill="#300000" opacity="0.5"/>
 </g>
 <g filter="url(#rag)">
  <path d="M62.3,123 C66,123.5 70,125 75,126 C82,127 90,126.5 98,125.5 C106,124.5 114,123.8 120,123.5 C122.5,123.4 124.2,123.8 124.8,125 C123,127.5 119,129.5 113,130.8 C106,132.3 98,132.8 90,132.8 C82,132.8 74,132 68.5,130.5 C65,129.2 62.8,127 62.3,123 Z" fill="#4a28f0"/>
 </g>
 <g filter="url(#b08)">
  <ellipse cx="68.8" cy="128.3" rx="2.5" ry="1.6" fill="#fff"/>
  <ellipse cx="76" cy="127.5" rx="3" ry="1.4" fill="#fff"/>
  <ellipse cx="98.9" cy="124.5" rx="5.5" ry="2.2" fill="#fffde8"/>
  <ellipse cx="90" cy="122.5" rx="4" ry="2" fill="#fff8c0"/>
  <ellipse cx="84" cy="126.5" rx="3" ry="1.5" fill="#fff"/>
  <ellipse cx="94.6" cy="129.8" rx="2.2" ry="1.2" fill="#fff"/>
  <ellipse cx="103" cy="121.5" rx="3" ry="1.4" fill="#fff"/>
  <ellipse cx="88" cy="131" rx="2" ry="1" fill="#e040e0" opacity="0.8"/>
  <ellipse cx="110" cy="128" rx="2" ry="1" fill="#e040e0" opacity="0.7"/>
 </g>
</g>
<rect x="30" y="82" width="112" height="1" fill="#fff"/>
<g transform="translate(26.00 68.80) rotate(-90)">
<text x="0" y="0" font-size="8.5" textLength="35.60" lengthAdjust="spacingAndGlyphs" fill="#000" stroke="#000" stroke-width="0.22">Wild type</text>
</g>
<g transform="translate(26.2 136.6) rotate(-90)">
<text x="0.00" y="0.00" font-size="8.6" textLength="24.30" lengthAdjust="spacingAndGlyphs" fill="#000" stroke="#000" stroke-width="0.22" >RGS10</text>
<text x="24.60" y="-2.60" font-size="5.8" textLength="6.30" lengthAdjust="spacingAndGlyphs" fill="#000" stroke="#000" stroke-width="0.22" >-/-</text>
<text x="31.40" y="0.00" font-size="8.6" textLength="6.40" lengthAdjust="spacingAndGlyphs" fill="#000" stroke="#000" stroke-width="0.22" >18</text>
<text x="38.00" y="-2.60" font-size="5.8" textLength="6.00" lengthAdjust="spacingAndGlyphs" fill="#000" stroke="#000" stroke-width="0.22" >-/-</text>
</g>
<text x="156.60" y="17.60" font-size="11.3" font-weight="bold" fill="#000" >B</text>
<line x1="197.30" y1="26.10" x2="197.30" y2="124.85" stroke="#231f20" stroke-width="1.15"/>
<line x1="196.75" y1="124.30" x2="314.40" y2="124.30" stroke="#231f20" stroke-width="1.15"/>
<line x1="194.30" y1="124.30" x2="197.30" y2="124.30" stroke="#231f20" stroke-width="1"/>
<text x="191.90" y="126.65" font-size="7.8" text-anchor="end" fill="#231f20" stroke="#231f20" stroke-width="0.22" >0</text>
<line x1="194.30" y1="110.66" x2="197.30" y2="110.66" stroke="#231f20" stroke-width="1"/>
<text x="191.90" y="113.01" font-size="7.8" text-anchor="end" fill="#231f20" stroke="#231f20" stroke-width="0.22" >200</text>
<line x1="194.30" y1="97.02" x2="197.30" y2="97.02" stroke="#231f20" stroke-width="1"/>
<text x="191.90" y="99.37" font-size="7.8" text-anchor="end" fill="#231f20" stroke="#231f20" stroke-width="0.22" >400</text>
<line x1="194.30" y1="83.38" x2="197.30" y2="83.38" stroke="#231f20" stroke-width="1"/>
<text x="191.90" y="85.73" font-size="7.8" text-anchor="end" fill="#231f20" stroke="#231f20" stroke-width="0.22" >600</text>
<line x1="194.30" y1="69.74" x2="197.30" y2="69.74" stroke="#231f20" stroke-width="1"/>
<text x="191.90" y="72.09" font-size="7.8" text-anchor="end" fill="#231f20" stroke="#231f20" stroke-width="0.22" >800</text>
<line x1="194.30" y1="56.10" x2="197.30" y2="56.10" stroke="#231f20" stroke-width="1"/>
<text x="191.90" y="58.45" font-size="7.8" text-anchor="end" fill="#231f20" stroke="#231f20" stroke-width="0.22" >1000</text>
<line x1="194.30" y1="42.46" x2="197.30" y2="42.46" stroke="#231f20" stroke-width="1"/>
<text x="191.90" y="44.81" font-size="7.8" text-anchor="end" fill="#231f20" stroke="#231f20" stroke-width="0.22" >1200</text>
<line x1="194.30" y1="28.82" x2="197.30" y2="28.82" stroke="#231f20" stroke-width="1"/>
<text x="191.90" y="31.17" font-size="7.8" text-anchor="end" fill="#231f20" stroke="#231f20" stroke-width="0.22" >1400</text>
<line x1="197.30" y1="124.30" x2="197.30" y2="126.90" stroke="#231f20" stroke-width="1"/>
<text x="197.30" y="137.40" font-size="7.8" text-anchor="middle" fill="#231f20" stroke="#231f20" stroke-width="0.22" >0</text>
<line x1="235.40" y1="124.30" x2="235.40" y2="126.90" stroke="#231f20" stroke-width="1"/>
<text x="235.40" y="137.40" font-size="7.8" text-anchor="middle" fill="#231f20" stroke="#231f20" stroke-width="0.22" >60</text>
<line x1="273.50" y1="124.30" x2="273.50" y2="126.90" stroke="#231f20" stroke-width="1"/>
<text x="273.50" y="137.40" font-size="7.8" text-anchor="middle" fill="#231f20" stroke="#231f20" stroke-width="0.22" >120</text>
<line x1="311.60" y1="124.30" x2="311.60" y2="126.90" stroke="#231f20" stroke-width="1"/>
<text x="311.60" y="137.40" font-size="7.8" text-anchor="middle" fill="#231f20" stroke="#231f20" stroke-width="0.22" >180</text>
<text x="256.40" y="150.30" font-size="9.5" text-anchor="middle" textLength="26.20" lengthAdjust="spacingAndGlyphs" fill="#231f20" stroke="#231f20" stroke-width="0.22" >Time (s)</text>
<g transform="translate(168.40 113.90) rotate(-90)">
<text x="0" y="0" font-size="8.6" textLength="81.80" lengthAdjust="spacingAndGlyphs" fill="#231f20" stroke="#231f20" stroke-width="0.22">Mean CD41 area (μm<tspan font-size="6.8" dy="-3.6">2</tspan><tspan dy="3.6">)</tspan></text>
</g>
<line x1="203.60" y1="36.30" x2="211.90" y2="36.30" stroke="#4e2475" stroke-width="1.25"/>
<line x1="203.60" y1="46.80" x2="211.90" y2="46.80" stroke="#ae0e34" stroke-width="1.25"/>
<text x="214.90" y="38.60" font-size="8.0" textLength="31.80" lengthAdjust="spacingAndGlyphs" fill="#231f20" stroke="#231f20" stroke-width="0.14" >Wild type</text>
<text x="214.90" y="49.50" font-size="8.0" textLength="21.70" lengthAdjust="spacingAndGlyphs" fill="#231f20" stroke="#231f20" stroke-width="0.14" >RGS10</text>
<text x="237.10" y="47.00" font-size="5.6" textLength="6.30" lengthAdjust="spacingAndGlyphs" fill="#231f20" stroke="#231f20" stroke-width="0.14" >-/-</text>
<text x="244.50" y="49.50" font-size="8.0" textLength="7.90" lengthAdjust="spacingAndGlyphs" fill="#231f20" stroke="#231f20" stroke-width="0.14" >18</text>
<text x="252.90" y="47.00" font-size="5.6" textLength="6.20" lengthAdjust="spacingAndGlyphs" fill="#231f20" stroke="#231f20" stroke-width="0.14" >-/-</text>
<polygon fill="#a08abb" points="197.10,117.21 197.70,116.74 198.30,116.03 198.90,115.42 199.50,115.40 200.10,114.98 200.70,113.99 201.30,113.09 201.90,113.04 202.50,112.51 203.10,111.31 203.70,110.89 204.30,111.19 204.90,110.61 205.50,110.19 206.10,109.18 206.70,109.76 207.30,109.09 207.90,109.45 208.50,108.43 209.10,108.31 209.70,108.35 210.30,108.03 210.90,107.46 211.50,107.32 212.10,106.39 212.70,106.16 213.30,106.25 213.90,105.56 214.50,105.57 215.10,105.53 215.70,104.87 216.30,104.60 216.90,103.89 217.50,103.22 218.10,102.40 218.70,102.45 219.30,102.52 219.90,101.68 220.50,101.66 221.10,100.87 221.70,100.56 222.30,101.13 222.90,100.95 223.50,100.91 224.10,100.62 224.70,100.39 225.30,100.41 225.90,100.27 226.50,99.89 227.10,100.05 227.70,98.90 228.30,98.81 228.90,98.10 229.50,97.46 230.10,97.23 230.70,97.25 231.30,96.61 231.90,96.89 232.50,96.65 233.10,95.85 233.70,95.30 234.30,95.54 234.90,94.37 235.50,94.26 236.10,93.47 236.70,93.75 237.30,93.37 237.90,92.24 238.50,92.39 239.10,91.07 239.70,91.57 240.30,90.64 240.90,90.48 241.50,90.33 242.10,89.73 242.70,89.60 243.30,88.77 243.90,88.38 244.50,87.68 245.10,87.69 245.70,86.66 246.30,86.69 246.90,86.27 247.50,85.66 248.10,85.61 248.70,85.41 249.30,85.16 249.90,84.65 250.50,83.97 251.10,83.64 251.70,83.78 252.30,83.90 252.90,83.36 253.50,82.47 254.10,81.90 254.70,81.87 255.30,81.33 255.90,81.85 256.50,80.93 257.10,80.08 257.70,79.59 258.30,79.50 258.90,79.03 259.50,79.20 260.10,78.46 260.70,77.57 261.30,77.43 261.90,77.34 262.50,77.04 263.10,77.80 263.70,76.97 264.30,76.56 264.90,76.15 265.50,76.02 266.10,75.97 266.70,75.42 267.30,75.31 267.90,74.87 268.50,75.02 269.10,74.22 269.70,73.62 270.30,73.14 270.90,73.05 271.50,72.72 272.10,72.56 272.70,72.50 273.30,72.24 273.90,71.88 274.50,72.12 275.10,71.66 275.70,71.00 276.30,71.68 276.90,71.63 277.50,70.87 278.10,71.64 278.70,71.94 279.30,71.45 279.90,71.50 280.50,71.19 281.10,71.24 281.70,71.20 282.30,72.23 282.90,72.80 283.50,72.65 284.10,73.03 284.70,72.63 285.30,72.80 285.90,73.13 286.50,72.67 287.10,73.77 287.70,73.61 288.30,73.25 288.90,73.84 289.50,74.13 290.10,73.79 290.70,73.50 291.30,73.75 291.90,73.79 292.50,73.73 293.10,74.37 293.70,74.26 294.30,73.72 294.90,73.52 295.50,73.65 296.10,73.98 296.70,73.05 297.30,73.87 297.90,73.26 298.50,72.82 299.10,73.14 299.70,73.38 300.30,74.20 300.90,74.14 301.50,74.30 302.10,73.76 302.70,73.71 303.30,73.40 303.90,73.80 304.50,73.35 305.10,73.49 305.70,73.43 306.30,74.33 306.90,74.77 307.50,75.13 307.80,74.53 307.80,84.12 307.50,84.12 306.90,84.04 306.30,83.07 305.70,83.42 305.10,83.20 304.50,82.71 303.90,82.77 303.30,82.86 302.70,82.25 302.10,83.24 301.50,82.94 300.90,82.59 300.30,82.12 299.70,82.31 299.10,81.98 298.50,81.92 297.90,81.46 297.30,82.30 296.70,81.66 296.10,82.09 295.50,81.09 294.90,81.20 294.30,81.60 293.70,81.77 293.10,82.16 292.50,81.62 291.90,80.92 291.30,80.92 290.70,81.09 290.10,80.70 289.50,81.39 288.90,81.40 288.30,80.52 287.70,81.19 287.10,80.65 286.50,80.18 285.90,80.03 285.30,79.59 284.70,79.98 284.10,80.29 283.50,79.51 282.90,80.13 282.30,79.57 281.70,79.13 281.10,78.70 280.50,78.26 279.90,78.74 279.30,78.95 278.70,79.18 278.10,79.15 277.50,78.42 276.90,78.89 276.30,78.62 275.70,78.89 275.10,78.75 274.50,78.52 273.90,78.97 273.30,79.52 272.70,79.54 272.10,79.63 271.50,79.76 270.90,80.12 270.30,80.50 269.70,80.93 269.10,81.55 268.50,82.11 267.90,82.26 267.30,82.39 266.70,83.09 266.10,82.60 265.50,83.65 264.90,83.41 264.30,83.67 263.70,83.86 263.10,84.52 262.50,84.60 261.90,84.10 261.30,84.85 260.70,84.42 260.10,85.16 259.50,85.86 258.90,86.17 258.30,86.43 257.70,86.32 257.10,86.99 256.50,87.16 255.90,87.65 255.30,88.10 254.70,88.19 254.10,88.15 253.50,88.60 252.90,89.46 252.30,89.84 251.70,90.11 251.10,90.08 250.50,90.29 249.90,90.63 249.30,91.25 248.70,91.93 248.10,91.66 247.50,92.50 246.90,93.06 246.30,92.91 245.70,93.47 245.10,93.46 244.50,93.59 243.90,94.35 243.30,95.23 242.70,94.79 242.10,95.79 241.50,95.74 240.90,96.60 240.30,96.16 239.70,97.03 239.10,97.11 238.50,97.43 237.90,97.58 237.30,98.25 236.70,98.01 236.10,98.39 235.50,98.84 234.90,99.27 234.30,99.97 233.70,99.87 233.10,100.92 232.50,101.06 231.90,100.68 231.30,101.29 230.70,101.44 230.10,101.78 229.50,101.58 228.90,102.31 228.30,102.07 227.70,103.09 227.10,103.24 226.50,103.81 225.90,104.42 225.30,104.17 224.70,104.20 224.10,104.13 223.50,104.05 222.90,104.66 222.30,104.38 221.70,104.03 221.10,104.69 220.50,105.23 219.90,105.18 219.30,105.66 218.70,105.97 218.10,106.32 217.50,106.16 216.90,106.57 216.30,107.72 215.70,108.37 215.10,108.83 214.50,108.63 213.90,109.18 213.30,109.26 212.70,109.29 212.10,109.21 211.50,109.50 210.90,110.53 210.30,111.03 209.70,110.65 209.10,110.75 208.50,111.11 207.90,111.60 207.30,112.10 206.70,112.02 206.10,111.51 205.50,111.95 204.90,113.32 204.30,112.84 203.70,113.43 203.10,113.93 202.50,114.30 201.90,114.90 201.30,115.54 200.70,116.01 200.10,116.49 199.50,117.44 198.90,117.18 198.30,117.73 197.70,117.86 197.10,118.87"/>
<polyline fill="none" stroke="#4e2475" stroke-width="1.15" stroke-linejoin="round" points="197.10,117.62 197.70,117.15 198.30,117.13 198.90,116.57 199.50,116.19 200.10,115.59 200.70,114.79 201.30,114.43 201.90,113.66 202.50,113.30 203.10,112.64 203.70,112.10 204.30,111.85 204.90,111.81 205.50,111.11 206.10,110.67 206.70,110.57 207.30,110.61 207.90,110.24 208.50,109.82 209.10,109.91 209.70,109.22 210.30,109.33 210.90,108.86 211.50,108.39 212.10,108.01 212.70,107.80 213.30,107.90 213.90,107.35 214.50,107.18 215.10,106.96 215.70,106.47 216.30,106.15 216.90,105.44 217.50,104.86 218.10,104.45 218.70,104.37 219.30,103.96 219.90,103.50 220.50,103.29 221.10,102.93 221.70,102.51 222.30,102.63 222.90,102.66 223.50,102.32 224.10,102.32 224.70,102.20 225.30,102.30 225.90,102.16 226.50,101.59 227.10,101.56 227.70,100.77 228.30,100.45 228.90,100.40 229.50,99.83 230.10,99.62 230.70,99.04 231.30,99.01 231.90,98.87 232.50,98.48 233.10,98.30 233.70,97.64 234.30,97.39 234.90,97.00 235.50,96.62 236.10,96.15 236.70,96.00 237.30,95.81 237.90,95.20 238.50,94.85 239.10,94.07 239.70,93.95 240.30,93.69 240.90,93.62 241.50,93.31 242.10,92.61 242.70,92.16 243.30,91.97 243.90,91.25 244.50,91.02 245.10,90.52 245.70,90.06 246.30,89.61 246.90,89.70 247.50,89.12 248.10,88.73 248.70,88.46 249.30,88.47 249.90,87.75 250.50,87.46 251.10,87.20 251.70,87.12 252.30,86.85 252.90,86.56 253.50,85.82 254.10,85.36 254.70,84.90 255.30,84.87 255.90,84.73 256.50,83.93 257.10,83.39 257.70,83.00 258.30,82.66 258.90,82.52 259.50,82.37 260.10,81.92 260.70,81.36 261.30,81.23 261.90,80.98 262.50,80.85 263.10,80.92 263.70,80.63 264.30,80.23 264.90,79.96 265.50,79.73 266.10,79.05 266.70,79.16 267.30,79.00 267.90,78.84 268.50,78.57 269.10,78.02 269.70,77.60 270.30,77.05 270.90,77.01 271.50,76.45 272.10,76.04 272.70,75.84 273.30,75.61 273.90,75.55 274.50,75.26 275.10,75.04 275.70,75.00 276.30,74.91 276.90,75.02 277.50,74.80 278.10,75.24 278.70,75.28 279.30,74.99 279.90,74.95 280.50,75.06 281.10,75.20 281.70,75.19 282.30,75.81 282.90,76.33 283.50,76.31 284.10,76.42 284.70,76.29 285.30,76.32 285.90,76.58 286.50,76.72 287.10,77.24 287.70,77.08 288.30,76.94 288.90,77.55 289.50,77.59 290.10,77.37 290.70,77.56 291.30,77.31 291.90,77.54 292.50,77.97 293.10,78.10 293.70,78.03 294.30,77.67 294.90,77.55 295.50,77.33 296.10,77.63 296.70,77.59 297.30,77.73 297.90,77.48 298.50,77.30 299.10,77.65 299.70,77.99 300.30,78.12 300.90,78.22 301.50,78.36 302.10,78.44 302.70,78.20 303.30,78.36 303.90,78.40 304.50,78.26 305.10,78.27 305.70,78.53 306.30,78.72 306.90,79.12 307.50,79.54 307.80,79.43"/>
<polygon fill="#d78a7e" points="197.10,116.83 197.70,116.52 198.30,116.62 198.90,116.23 199.50,114.88 200.10,114.36 200.70,112.82 201.30,112.78 201.90,111.67 202.50,111.89 203.10,110.42 203.70,109.92 204.30,108.73 204.90,108.78 205.50,108.14 206.10,107.69 206.70,107.90 207.30,106.80 207.90,106.25 208.50,105.63 209.10,106.06 209.70,105.38 210.30,104.26 210.90,103.94 211.50,103.15 212.10,102.58 212.70,102.65 213.30,101.97 213.90,101.16 214.50,100.03 215.10,99.54 215.70,98.86 216.30,97.58 216.90,96.70 217.50,95.52 218.10,95.09 218.70,94.95 219.30,93.14 219.90,92.23 220.50,91.76 221.10,90.63 221.70,90.16 222.30,89.29 222.90,88.26 223.50,87.47 224.10,86.81 224.70,86.13 225.30,84.81 225.90,84.52 226.50,84.68 227.10,83.90 227.70,83.40 228.30,83.26 228.90,82.94 229.50,82.16 230.10,81.89 230.70,80.74 231.30,80.37 231.90,80.91 232.50,80.74 233.10,80.29 233.70,79.06 234.30,79.07 234.90,78.25 235.50,77.23 236.10,76.48 236.70,75.72 237.30,75.46 237.90,74.72 238.50,74.33 239.10,73.44 239.70,73.36 240.30,72.29 240.90,71.61 241.50,71.06 242.10,69.92 242.70,69.57 243.30,68.90 243.90,68.64 244.50,68.15 245.10,68.02 245.70,66.35 246.30,65.73 246.90,64.74 247.50,64.75 248.10,63.91 248.70,63.31 249.30,61.88 249.90,61.93 250.50,61.29 251.10,61.16 251.70,60.57 252.30,60.59 252.90,59.35 253.50,59.23 254.10,58.13 254.70,58.57 255.30,57.93 255.90,58.16 256.50,57.69 257.10,57.10 257.70,56.65 258.30,55.64 258.90,55.51 259.50,54.10 260.10,54.21 260.70,53.15 261.30,53.59 261.90,52.50 262.50,52.44 263.10,51.83 263.70,51.14 264.30,51.00 264.90,50.57 265.50,49.85 266.10,49.27 266.70,48.72 267.30,48.92 267.90,48.76 268.50,48.00 269.10,47.89 269.70,46.97 270.30,46.72 270.90,46.99 271.50,47.27 272.10,47.10 272.70,46.82 273.30,46.38 273.90,46.29 274.50,45.86 275.10,45.97 275.70,45.32 276.30,45.13 276.90,44.99 277.50,44.85 278.10,44.21 278.70,44.56 279.30,44.34 279.90,44.27 280.50,44.07 281.10,43.25 281.70,43.00 282.30,42.42 282.90,42.41 283.50,42.89 284.10,41.99 284.70,42.03 285.30,42.40 285.90,42.29 286.50,41.54 287.10,41.30 287.70,41.30 288.30,41.47 288.90,41.12 289.50,40.19 290.10,40.35 290.70,40.24 291.30,40.49 291.90,40.02 292.50,39.52 293.10,39.00 293.70,38.67 294.30,39.27 294.90,39.34 295.50,38.45 296.10,38.75 296.70,37.89 297.30,38.31 297.90,37.93 298.50,37.89 299.10,37.69 299.70,37.32 300.30,37.75 300.90,37.74 301.50,38.35 302.10,38.03 302.70,37.64 303.30,37.65 303.90,37.34 304.50,37.89 305.10,37.25 305.70,36.50 306.30,36.96 306.90,36.50 307.50,36.37 307.80,37.11 307.80,49.78 307.50,50.24 306.90,50.53 306.30,50.17 305.70,50.29 305.10,51.17 304.50,51.03 303.90,50.47 303.30,50.75 302.70,51.49 302.10,51.17 301.50,51.52 300.90,51.47 300.30,50.90 299.70,51.25 299.10,50.76 298.50,50.73 297.90,51.43 297.30,51.69 296.70,51.35 296.10,51.32 295.50,51.66 294.90,52.80 294.30,52.20 293.70,51.86 293.10,51.79 292.50,52.64 291.90,53.37 291.30,53.01 290.70,52.63 290.10,53.11 289.50,53.53 288.90,53.70 288.30,53.90 287.70,53.98 287.10,54.96 286.50,54.64 285.90,54.79 285.30,54.91 284.70,55.14 284.10,55.25 283.50,55.76 282.90,55.75 282.30,55.17 281.70,55.42 281.10,55.86 280.50,56.97 279.90,56.16 279.30,56.24 278.70,56.46 278.10,56.87 277.50,57.35 276.90,56.66 276.30,57.87 275.70,58.31 275.10,58.30 274.50,58.21 273.90,57.75 273.30,58.43 272.70,58.55 272.10,59.25 271.50,58.85 270.90,58.61 270.30,59.05 269.70,59.20 269.10,59.44 268.50,59.54 267.90,60.47 267.30,60.31 266.70,60.78 266.10,60.70 265.50,61.41 264.90,61.99 264.30,61.90 263.70,62.20 263.10,62.19 262.50,62.72 261.90,63.81 261.30,64.50 260.70,63.94 260.10,64.68 259.50,64.76 258.90,65.34 258.30,66.37 257.70,66.39 257.10,66.66 256.50,67.50 255.90,67.66 255.30,67.41 254.70,68.36 254.10,67.72 253.50,68.92 252.90,69.13 252.30,70.28 251.70,69.91 251.10,70.39 250.50,70.77 249.90,71.06 249.30,71.14 248.70,71.71 248.10,72.90 247.50,73.56 246.90,73.90 246.30,73.49 245.70,74.32 245.10,76.16 244.50,76.10 243.90,76.65 243.30,77.14 242.70,77.00 242.10,77.82 241.50,77.87 240.90,78.93 240.30,79.38 239.70,80.08 239.10,80.16 238.50,80.58 237.90,81.59 237.30,81.52 236.70,82.37 236.10,82.76 235.50,83.47 234.90,84.26 234.30,84.25 233.70,85.42 233.10,85.76 232.50,86.04 231.90,86.31 231.30,86.14 230.70,86.62 230.10,87.56 229.50,88.03 228.90,87.65 228.30,88.59 227.70,88.57 227.10,89.80 226.50,89.78 225.90,90.45 225.30,90.03 224.70,90.80 224.10,91.69 223.50,91.93 222.90,92.64 222.30,94.15 221.70,94.88 221.10,95.37 220.50,96.01 219.90,96.98 219.30,97.27 218.70,99.24 218.10,99.77 217.50,99.99 216.90,100.44 216.30,101.89 215.70,101.93 215.10,103.19 214.50,103.33 213.90,104.61 213.30,105.37 212.70,105.37 212.10,105.98 211.50,106.32 210.90,107.17 210.30,107.66 209.70,107.69 209.10,108.88 208.50,109.32 207.90,109.18 207.30,110.13 206.70,110.46 206.10,110.44 205.50,111.03 204.90,110.89 204.30,111.41 203.70,111.86 203.10,113.32 202.50,113.60 201.90,114.26 201.30,115.65 200.70,115.53 200.10,116.28 199.50,117.52 198.90,117.71 198.30,117.99 197.70,118.65 197.10,118.69"/>
<polyline fill="none" stroke="#ae0e34" stroke-width="1.15" stroke-linejoin="round" points="197.10,118.14 197.70,117.75 198.30,117.27 198.90,116.89 199.50,116.12 200.10,115.20 200.70,114.39 201.30,114.08 201.90,113.16 202.50,112.78 203.10,111.77 203.70,110.97 204.30,110.47 204.90,109.75 205.50,109.30 206.10,109.24 206.70,108.92 207.30,108.48 207.90,107.90 208.50,107.58 209.10,107.22 209.70,106.55 210.30,106.09 210.90,105.15 211.50,104.90 212.10,104.31 212.70,103.96 213.30,103.43 213.90,102.62 214.50,101.71 215.10,101.51 215.70,100.46 216.30,99.76 216.90,98.88 217.50,97.94 218.10,97.29 218.70,96.70 219.30,95.50 219.90,94.79 220.50,93.81 221.10,93.16 221.70,92.39 222.30,91.45 222.90,90.54 223.50,89.64 224.10,89.28 224.70,88.49 225.30,87.65 225.90,87.47 226.50,87.27 227.10,86.68 227.70,86.10 228.30,85.72 228.90,85.25 229.50,84.96 230.10,84.39 230.70,83.98 231.30,83.57 231.90,83.36 232.50,83.25 233.10,82.88 233.70,82.22 234.30,81.64 234.90,81.16 235.50,80.54 236.10,79.92 236.70,79.11 237.30,78.55 237.90,78.45 238.50,77.52 239.10,77.02 239.70,76.56 240.30,76.21 240.90,75.29 241.50,74.59 242.10,73.93 242.70,73.42 243.30,72.91 243.90,72.70 244.50,72.23 245.10,71.70 245.70,70.53 246.30,69.64 246.90,69.36 247.50,69.04 248.10,68.28 248.70,67.68 249.30,66.71 249.90,66.25 250.50,66.16 251.10,65.84 251.70,65.50 252.30,65.24 252.90,64.42 253.50,63.73 254.10,63.23 254.70,63.05 255.30,62.88 255.90,62.77 256.50,62.36 257.10,61.89 257.70,61.52 258.30,60.89 258.90,60.42 259.50,59.60 260.10,59.49 260.70,58.83 261.30,58.76 261.90,58.33 262.50,57.68 263.10,57.03 263.70,56.60 264.30,56.48 264.90,56.28 265.50,55.59 266.10,55.04 266.70,54.91 267.30,54.74 267.90,54.37 268.50,53.93 269.10,53.85 269.70,53.28 270.30,53.10 270.90,53.00 271.50,53.19 272.10,52.94 272.70,52.88 273.30,52.46 273.90,51.98 274.50,51.65 275.10,51.89 275.70,51.74 276.30,51.30 276.90,50.79 277.50,50.78 278.10,50.81 278.70,50.55 279.30,50.21 279.90,50.24 280.50,50.33 281.10,49.79 281.70,49.29 282.30,49.15 282.90,49.03 283.50,49.06 284.10,48.64 284.70,48.74 285.30,48.66 285.90,48.35 286.50,47.88 287.10,48.09 287.70,47.63 288.30,47.66 288.90,47.16 289.50,46.80 290.10,46.90 290.70,46.53 291.30,46.72 291.90,46.41 292.50,45.97 293.10,45.70 293.70,45.64 294.30,45.71 294.90,45.89 295.50,45.35 296.10,45.18 296.70,44.91 297.30,45.24 297.90,44.76 298.50,44.40 299.10,44.18 299.70,44.25 300.30,44.60 300.90,44.72 301.50,44.64 302.10,44.75 302.70,44.72 303.30,44.24 303.90,43.86 304.50,44.16 305.10,44.14 305.70,43.59 306.30,43.72 306.90,43.59 307.50,43.50 307.80,43.41"/>
<text x="332.00" y="17.20" font-size="11.3" font-weight="bold" fill="#000" >C</text>
<line x1="369.50" y1="26.20" x2="369.50" y2="124.55" stroke="#231f20" stroke-width="1.15"/>
<line x1="368.95" y1="124.00" x2="486.20" y2="124.00" stroke="#231f20" stroke-width="1.15"/>
<line x1="366.50" y1="124.00" x2="369.50" y2="124.00" stroke="#231f20" stroke-width="1"/>
<text x="363.60" y="126.35" font-size="7.8" text-anchor="end" fill="#231f20" stroke="#231f20" stroke-width="0.22" >0</text>
<line x1="366.50" y1="108.18" x2="369.50" y2="108.18" stroke="#231f20" stroke-width="1"/>
<text x="363.60" y="110.53" font-size="7.8" text-anchor="end" fill="#231f20" stroke="#231f20" stroke-width="0.22" >50</text>
<line x1="366.50" y1="92.36" x2="369.50" y2="92.36" stroke="#231f20" stroke-width="1"/>
<text x="363.60" y="94.71" font-size="7.8" text-anchor="end" fill="#231f20" stroke="#231f20" stroke-width="0.22" >100</text>
<line x1="366.50" y1="76.54" x2="369.50" y2="76.54" stroke="#231f20" stroke-width="1"/>
<text x="363.60" y="78.89" font-size="7.8" text-anchor="end" fill="#231f20" stroke="#231f20" stroke-width="0.22" >150</text>
<line x1="366.50" y1="60.72" x2="369.50" y2="60.72" stroke="#231f20" stroke-width="1"/>
<text x="363.60" y="63.07" font-size="7.8" text-anchor="end" fill="#231f20" stroke="#231f20" stroke-width="0.22" >200</text>
<line x1="366.50" y1="44.90" x2="369.50" y2="44.90" stroke="#231f20" stroke-width="1"/>
<text x="363.60" y="47.25" font-size="7.8" text-anchor="end" fill="#231f20" stroke="#231f20" stroke-width="0.22" >250</text>
<line x1="366.50" y1="29.08" x2="369.50" y2="29.08" stroke="#231f20" stroke-width="1"/>
<text x="363.60" y="31.43" font-size="7.8" text-anchor="end" fill="#231f20" stroke="#231f20" stroke-width="0.22" >300</text>
<line x1="369.50" y1="124.00" x2="369.50" y2="126.60" stroke="#231f20" stroke-width="1"/>
<text x="369.50" y="137.40" font-size="7.8" text-anchor="middle" fill="#231f20" stroke="#231f20" stroke-width="0.22" >0</text>
<line x1="407.60" y1="124.00" x2="407.60" y2="126.60" stroke="#231f20" stroke-width="1"/>
<text x="407.60" y="137.40" font-size="7.8" text-anchor="middle" fill="#231f20" stroke="#231f20" stroke-width="0.22" >60</text>
<line x1="445.70" y1="124.00" x2="445.70" y2="126.60" stroke="#231f20" stroke-width="1"/>
<text x="445.70" y="137.40" font-size="7.8" text-anchor="middle" fill="#231f20" stroke="#231f20" stroke-width="0.22" >120</text>
<line x1="483.80" y1="124.00" x2="483.80" y2="126.60" stroke="#231f20" stroke-width="1"/>
<text x="483.80" y="137.40" font-size="7.8" text-anchor="middle" fill="#231f20" stroke="#231f20" stroke-width="0.22" >180</text>
<text x="428.35" y="150.20" font-size="9.5" text-anchor="middle" textLength="26.30" lengthAdjust="spacingAndGlyphs" fill="#231f20" stroke="#231f20" stroke-width="0.22" >Time (s)</text>
<g transform="translate(344.80 119.50) rotate(-90)">
<text x="0" y="0" font-size="8.6" textLength="90.00" lengthAdjust="spacingAndGlyphs" fill="#231f20" stroke="#231f20" stroke-width="0.22">Mean P-selectin area (μm<tspan font-size="6.8" dy="-3.6">2</tspan><tspan dy="3.6">)</tspan></text>
</g>
<line x1="375.60" y1="36.30" x2="383.90" y2="36.30" stroke="#4e2475" stroke-width="1.25"/>
<line x1="375.60" y1="46.80" x2="383.90" y2="46.80" stroke="#ae0e34" stroke-width="1.25"/>
<text x="386.90" y="38.60" font-size="8.0" textLength="31.80" lengthAdjust="spacingAndGlyphs" fill="#231f20" stroke="#231f20" stroke-width="0.14" >Wild type</text>
<text x="386.90" y="49.50" font-size="8.0" textLength="21.70" lengthAdjust="spacingAndGlyphs" fill="#231f20" stroke="#231f20" stroke-width="0.14" >RGS10</text>
<text x="409.10" y="47.00" font-size="5.6" textLength="6.30" lengthAdjust="spacingAndGlyphs" fill="#231f20" stroke="#231f20" stroke-width="0.14" >-/-</text>
<text x="416.50" y="49.50" font-size="8.0" textLength="7.90" lengthAdjust="spacingAndGlyphs" fill="#231f20" stroke="#231f20" stroke-width="0.14" >18</text>
<text x="424.90" y="47.00" font-size="5.6" textLength="6.20" lengthAdjust="spacingAndGlyphs" fill="#231f20" stroke="#231f20" stroke-width="0.14" >-/-</text>
<polygon fill="#a08abb" points="369.50,122.44 370.10,121.95 370.70,122.06 371.30,121.96 371.90,122.05 372.50,122.06 373.10,122.06 373.70,121.37 374.30,121.40 374.90,121.43 375.50,121.64 376.10,121.14 376.70,120.37 377.30,121.26 377.90,120.97 378.50,120.67 379.10,120.79 379.70,120.65 380.30,120.03 380.90,120.01 381.50,119.42 382.10,119.75 382.70,119.62 383.30,119.85 383.90,119.68 384.50,119.88 385.10,119.56 385.70,119.36 386.30,118.84 386.90,118.81 387.50,118.82 388.10,119.07 388.70,118.46 389.30,118.23 389.90,118.93 390.50,118.05 391.10,118.43 391.70,117.61 392.30,117.50 392.90,117.48 393.50,117.65 394.10,117.76 394.70,118.07 395.30,117.46 395.90,117.68 396.50,117.52 397.10,116.40 397.70,116.99 398.30,116.89 398.90,117.08 399.50,116.57 400.10,117.08 400.70,116.49 401.30,116.71 401.90,115.98 402.50,116.41 403.10,115.85 403.70,115.69 404.30,115.80 404.90,115.11 405.50,114.91 406.10,114.46 406.70,113.85 407.30,114.31 407.90,113.73 408.50,113.28 409.10,112.96 409.70,113.78 410.30,113.00 410.90,112.79 411.50,112.53 412.10,111.98 412.70,112.62 413.30,112.55 413.90,112.42 414.50,112.34 415.10,110.97 415.70,111.74 416.30,110.80 416.90,110.74 417.50,111.21 418.10,110.51 418.70,110.31 419.30,110.44 419.90,110.26 420.50,110.19 421.10,109.33 421.70,108.71 422.30,108.31 422.90,108.01 423.50,107.67 424.10,107.49 424.70,107.12 425.30,107.02 425.90,106.97 426.50,106.72 427.10,106.12 427.70,105.42 428.30,105.75 428.90,104.84 429.50,104.16 430.10,104.34 430.70,103.66 431.30,103.56 431.90,103.21 432.50,102.64 433.10,101.74 433.70,101.79 434.30,102.03 434.90,101.20 435.50,101.30 436.10,100.58 436.70,99.90 437.30,99.38 437.90,99.20 438.50,99.03 439.10,99.19 439.70,98.91 440.30,98.18 440.90,97.91 441.50,98.15 442.10,97.43 442.70,97.29 443.30,96.45 443.90,95.75 444.50,95.77 445.10,95.95 445.70,95.75 446.30,94.86 446.90,94.54 447.50,93.86 448.10,93.95 448.70,92.97 449.30,92.62 449.90,93.00 450.50,92.49 451.10,92.29 451.70,91.85 452.30,91.42 452.90,90.96 453.50,91.40 454.10,90.82 454.70,89.93 455.30,90.38 455.90,89.82 456.50,89.94 457.10,90.36 457.70,89.85 458.30,89.24 458.90,88.88 459.50,88.37 460.10,88.67 460.70,88.99 461.30,88.26 461.90,87.62 462.50,87.18 463.10,86.83 463.70,87.16 464.30,87.48 464.90,86.54 465.50,86.76 466.10,87.00 466.70,86.44 467.30,85.27 467.90,85.56 468.50,84.85 469.10,85.13 469.70,84.80 470.30,83.45 470.90,83.40 471.50,82.96 472.10,83.16 472.70,82.82 473.30,82.48 473.90,82.27 474.50,82.13 475.10,81.79 475.70,82.25 476.30,81.66 476.90,81.39 477.50,81.79 478.10,80.91 478.70,81.17 479.30,80.89 479.50,81.29 479.50,90.94 479.30,90.51 478.70,90.32 478.10,90.54 477.50,91.02 476.90,91.07 476.30,90.47 475.70,91.18 475.10,90.66 474.50,90.92 473.90,91.31 473.30,91.27 472.70,91.54 472.10,91.41 471.50,91.04 470.90,91.74 470.30,92.10 469.70,92.76 469.10,92.82 468.50,93.17 467.90,93.73 467.30,93.21 466.70,94.06 466.10,94.15 465.50,94.21 464.90,94.61 464.30,94.89 463.70,94.57 463.10,94.11 462.50,94.95 461.90,95.52 461.30,94.80 460.70,95.34 460.10,95.24 459.50,95.37 458.90,95.77 458.30,96.61 457.70,96.61 457.10,97.15 456.50,96.82 455.90,96.06 455.30,97.25 454.70,97.05 454.10,96.78 453.50,96.98 452.90,97.46 452.30,97.57 451.70,98.07 451.10,98.21 450.50,98.95 449.90,98.76 449.30,99.21 448.70,98.90 448.10,100.03 447.50,100.01 446.90,100.29 446.30,100.53 445.70,101.30 445.10,101.54 444.50,101.23 443.90,101.75 443.30,101.47 442.70,102.06 442.10,102.74 441.50,102.57 440.90,102.98 440.30,103.13 439.70,103.40 439.10,103.74 438.50,104.01 437.90,104.00 437.30,104.50 436.70,104.72 436.10,105.08 435.50,105.25 434.90,105.63 434.30,105.90 433.70,105.78 433.10,106.52 432.50,107.12 431.90,106.81 431.30,106.97 430.70,107.61 430.10,107.61 429.50,108.40 428.90,109.00 428.30,108.93 427.70,109.04 427.10,109.24 426.50,109.33 425.90,110.31 425.30,110.57 424.70,110.65 424.10,110.90 423.50,110.66 422.90,110.67 422.30,110.91 421.70,111.37 421.10,111.48 420.50,112.76 419.90,112.75 419.30,112.75 418.70,112.29 418.10,113.70 417.50,113.30 416.90,113.27 416.30,113.08 415.70,113.86 415.10,113.32 414.50,114.49 413.90,114.14 413.30,114.89 412.70,114.14 412.10,114.70 411.50,114.72 410.90,114.88 410.30,115.17 409.70,115.47 409.10,114.85 408.50,115.46 407.90,115.82 407.30,116.73 406.70,116.42 406.10,116.60 405.50,116.48 404.90,117.12 404.30,117.07 403.70,117.17 403.10,117.46 402.50,118.16 401.90,117.60 401.30,118.01 400.70,117.85 400.10,118.87 399.50,118.12 398.90,118.34 398.30,118.46 397.70,118.19 397.10,118.14 396.50,118.49 395.90,118.63 395.30,118.70 394.70,118.90 394.10,119.14 393.50,119.29 392.90,118.76 392.30,118.92 391.70,118.68 391.10,120.00 390.50,119.12 389.90,119.49 389.30,119.72 388.70,119.95 388.10,119.76 387.50,120.42 386.90,120.30 386.30,120.33 385.70,120.61 385.10,121.19 384.50,120.71 383.90,120.84 383.30,121.10 382.70,121.02 382.10,120.91 381.50,121.10 380.90,120.94 380.30,121.38 379.70,122.01 379.10,121.81 378.50,121.56 377.90,122.26 377.30,122.33 376.70,121.85 376.10,122.44 375.50,122.29 374.90,122.33 374.30,122.45 373.70,123.00 373.10,122.37 372.50,122.56 371.90,123.81 371.30,123.15 370.70,123.27 370.10,123.05 369.50,122.83"/>
<polyline fill="none" stroke="#4e2475" stroke-width="1.15" stroke-linejoin="round" points="369.50,122.64 370.10,122.77 370.70,122.73 371.30,122.79 371.90,122.86 372.50,122.39 373.10,122.18 373.70,122.01 374.30,121.69 374.90,122.04 375.50,122.08 376.10,121.98 376.70,121.36 377.30,121.58 377.90,121.56 378.50,121.29 379.10,121.30 379.70,121.04 380.30,120.70 380.90,120.40 381.50,120.28 382.10,120.04 382.70,120.07 383.30,120.33 383.90,120.36 384.50,120.42 385.10,120.28 385.70,119.83 386.30,119.73 386.90,119.52 387.50,119.59 388.10,119.36 388.70,119.01 389.30,119.03 389.90,119.21 390.50,118.72 391.10,118.89 391.70,118.32 392.30,118.16 392.90,118.01 393.50,118.26 394.10,118.48 394.70,118.41 395.30,118.04 395.90,118.20 396.50,117.85 397.10,117.57 397.70,117.85 398.30,117.75 398.90,117.69 399.50,117.57 400.10,117.67 400.70,117.28 401.30,117.28 401.90,117.09 402.50,117.02 403.10,116.61 403.70,116.52 404.30,116.29 404.90,115.91 405.50,115.57 406.10,115.60 406.70,115.16 407.30,115.43 407.90,114.94 408.50,114.52 409.10,114.27 409.70,114.62 410.30,114.29 410.90,113.88 411.50,113.49 412.10,113.21 412.70,113.42 413.30,113.39 413.90,113.32 414.50,113.21 415.10,112.58 415.70,112.53 416.30,112.23 416.90,112.29 417.50,112.20 418.10,112.08 418.70,111.32 419.30,111.37 419.90,111.30 420.50,111.17 421.10,110.39 421.70,109.94 422.30,109.53 422.90,109.14 423.50,109.39 424.10,109.36 424.70,109.10 425.30,108.96 425.90,108.63 426.50,108.08 427.10,107.54 427.70,107.13 428.30,107.24 428.90,106.75 429.50,106.41 430.10,106.12 430.70,105.50 431.30,105.15 431.90,104.79 432.50,104.71 433.10,104.24 433.70,103.80 434.30,103.86 434.90,103.41 435.50,103.28 436.10,102.89 436.70,102.14 437.30,101.88 437.90,101.64 438.50,101.62 439.10,101.18 439.70,101.10 440.30,100.82 440.90,100.35 441.50,100.44 442.10,99.81 442.70,99.86 443.30,99.27 443.90,98.70 444.50,98.38 445.10,98.43 445.70,98.42 446.30,97.55 446.90,97.29 447.50,96.99 448.10,96.89 448.70,96.26 449.30,96.00 449.90,95.63 450.50,95.63 451.10,95.09 451.70,95.16 452.30,94.61 452.90,94.18 453.50,94.20 454.10,93.98 454.70,93.52 455.30,93.60 455.90,93.18 456.50,93.39 457.10,93.34 457.70,93.28 458.30,93.04 458.90,92.61 459.50,92.31 460.10,92.04 460.70,92.14 461.30,91.53 461.90,91.69 462.50,91.07 463.10,90.81 463.70,90.64 464.30,90.93 464.90,90.70 465.50,90.41 466.10,90.49 466.70,89.94 467.30,89.68 467.90,89.43 468.50,89.29 469.10,89.02 469.70,88.62 470.30,88.03 470.90,87.57 471.50,87.08 472.10,87.21 472.70,87.05 473.30,86.96 473.90,86.46 474.50,86.37 475.10,86.52 475.70,86.41 476.30,85.99 476.90,85.97 477.50,86.21 478.10,85.84 478.70,85.62 479.30,85.57 479.50,85.80"/>
<polygon fill="#d78a7e" points="369.50,122.16 370.10,122.00 370.70,121.79 371.30,121.22 371.90,121.82 372.50,121.28 373.10,121.89 373.70,120.85 374.30,120.56 374.90,120.92 375.50,120.20 376.10,120.27 376.70,119.45 377.30,119.79 377.90,119.85 378.50,119.07 379.10,119.50 379.70,118.99 380.30,118.55 380.90,118.57 381.50,118.34 382.10,118.25 382.70,118.30 383.30,117.75 383.90,117.35 384.50,117.20 385.10,116.70 385.70,116.71 386.30,115.87 386.90,116.07 387.50,115.58 388.10,115.47 388.70,114.71 389.30,114.86 389.90,114.48 390.50,114.34 391.10,114.10 391.70,113.16 392.30,113.14 392.90,112.72 393.50,112.76 394.10,111.64 394.70,111.77 395.30,111.23 395.90,110.87 396.50,109.69 397.10,110.05 397.70,109.43 398.30,109.30 398.90,109.08 399.50,108.43 400.10,108.46 400.70,108.07 401.30,107.99 401.90,108.02 402.50,107.15 403.10,107.50 403.70,107.01 404.30,106.61 404.90,106.83 405.50,106.46 406.10,105.56 406.70,105.76 407.30,104.64 407.90,105.21 408.50,104.92 409.10,104.22 409.70,103.34 410.30,103.45 410.90,103.11 411.50,102.29 412.10,102.05 412.70,101.23 413.30,100.65 413.90,99.96 414.50,98.88 415.10,97.69 415.70,97.27 416.30,95.90 416.90,94.91 417.50,94.85 418.10,93.81 418.70,93.70 419.30,92.49 419.90,92.20 420.50,91.58 421.10,90.12 421.70,90.12 422.30,89.00 422.90,87.65 423.50,87.56 424.10,86.63 424.70,85.62 425.30,84.80 425.90,84.36 426.50,83.11 427.10,82.80 427.70,81.63 428.30,80.34 428.90,79.96 429.50,79.21 430.10,78.53 430.70,76.52 431.30,75.86 431.90,74.63 432.50,74.83 433.10,73.40 433.70,72.78 434.30,71.71 434.90,71.43 435.50,70.76 436.10,70.11 436.70,69.71 437.30,68.65 437.90,67.78 438.50,67.40 439.10,66.85 439.70,66.30 440.30,65.64 440.90,64.99 441.50,64.44 442.10,63.76 442.70,62.90 443.30,62.32 443.90,62.08 444.50,61.55 445.10,60.69 445.70,60.22 446.30,60.11 446.90,60.30 447.50,59.48 448.10,59.45 448.70,58.28 449.30,57.18 449.90,57.67 450.50,57.21 451.10,56.69 451.70,56.26 452.30,55.93 452.90,54.57 453.50,53.94 454.10,53.37 454.70,52.69 455.30,52.51 455.90,51.99 456.50,51.63 457.10,50.46 457.70,50.70 458.30,49.66 458.90,48.87 459.50,48.78 460.10,47.75 460.70,47.42 461.30,47.23 461.90,46.87 462.50,45.47 463.10,45.68 463.70,44.67 464.30,44.56 464.90,43.64 465.50,43.40 466.10,43.13 466.70,42.42 467.30,41.52 467.90,41.98 468.50,41.36 469.10,41.20 469.70,40.24 470.30,40.52 470.90,39.72 471.50,39.26 472.10,39.41 472.70,38.04 473.30,37.95 473.90,37.40 474.50,36.28 475.10,36.30 475.70,35.83 476.30,35.36 476.90,35.13 477.50,35.27 478.10,34.30 478.70,33.64 479.30,34.34 479.50,33.69 479.50,49.42 479.30,50.23 478.70,49.91 478.10,49.72 477.50,50.49 476.90,51.25 476.30,50.80 475.70,50.82 475.10,51.17 474.50,51.47 473.90,52.76 473.30,53.38 472.70,53.21 472.10,53.90 471.50,54.32 470.90,54.57 470.30,55.89 469.70,55.50 469.10,56.12 468.50,55.77 467.90,56.55 467.30,56.55 466.70,57.48 466.10,58.14 465.50,57.50 464.90,58.81 464.30,59.09 463.70,59.18 463.10,60.15 462.50,60.02 461.90,60.84 461.30,61.74 460.70,61.55 460.10,61.66 459.50,62.87 458.90,63.20 458.30,64.07 457.70,64.23 457.10,64.70 456.50,65.23 455.90,66.24 455.30,66.50 454.70,66.64 454.10,66.79 453.50,67.91 452.90,68.07 452.30,68.81 451.70,69.27 451.10,69.98 450.50,69.81 449.90,70.20 449.30,69.67 448.70,71.03 448.10,70.95 447.50,71.51 446.90,71.67 446.30,71.42 445.70,72.23 445.10,72.29 444.50,72.84 443.90,73.34 443.30,73.34 442.70,73.97 442.10,74.13 441.50,75.05 440.90,75.23 440.30,76.02 439.70,76.30 439.10,77.25 438.50,77.06 437.90,76.67 437.30,77.45 436.70,78.99 436.10,79.05 435.50,79.81 434.90,80.04 434.30,80.65 433.70,81.64 433.10,81.97 432.50,82.88 431.90,82.83 431.30,84.06 430.70,84.60 430.10,85.77 429.50,86.58 428.90,87.67 428.30,88.08 427.70,88.51 427.10,89.01 426.50,90.00 425.90,90.96 425.30,91.31 424.70,91.63 424.10,92.40 423.50,93.36 422.90,93.65 422.30,94.45 421.70,95.11 421.10,95.56 420.50,96.48 419.90,97.16 419.30,97.29 418.70,98.06 418.10,98.63 417.50,99.02 416.90,99.82 416.30,100.63 415.70,101.02 415.10,101.88 414.50,102.75 413.90,104.43 413.30,104.33 412.70,104.86 412.10,105.19 411.50,106.18 410.90,106.59 410.30,106.95 409.70,107.05 409.10,107.81 408.50,107.95 407.90,108.34 407.30,108.10 406.70,108.97 406.10,109.14 405.50,109.57 404.90,109.93 404.30,110.04 403.70,109.96 403.10,109.89 402.50,110.35 401.90,110.37 401.30,110.58 400.70,110.65 400.10,110.35 399.50,111.20 398.90,111.68 398.30,111.39 397.70,111.59 397.10,112.34 396.50,112.02 395.90,112.97 395.30,112.90 394.70,113.91 394.10,114.33 393.50,114.45 392.90,114.89 392.30,115.75 391.70,115.15 391.10,115.48 390.50,115.89 389.90,116.49 389.30,116.42 388.70,117.39 388.10,117.73 387.50,117.84 386.90,117.99 386.30,118.26 385.70,118.61 385.10,118.98 384.50,119.20 383.90,118.94 383.30,120.08 382.70,119.47 382.10,119.56 381.50,119.58 380.90,120.24 380.30,119.75 379.70,119.99 379.10,120.79 378.50,120.50 377.90,121.18 377.30,121.39 376.70,120.88 376.10,121.64 375.50,121.66 374.90,121.89 374.30,122.49 373.70,121.84 373.10,122.62 372.50,122.84 371.90,122.86 371.30,122.38 370.70,122.64 370.10,122.38 369.50,122.99"/>
<polyline fill="none" stroke="#ae0e34" stroke-width="1.15" stroke-linejoin="round" points="369.50,122.56 370.10,122.19 370.70,122.15 371.30,122.19 371.90,122.18 372.50,122.23 373.10,122.19 373.70,121.47 374.30,121.55 374.90,121.45 375.50,121.31 376.10,120.91 376.70,120.40 377.30,120.44 377.90,120.34 378.50,120.11 379.10,120.08 379.70,119.59 380.30,119.09 380.90,119.09 381.50,119.18 382.10,118.74 382.70,118.82 383.30,118.91 383.90,118.35 384.50,118.21 385.10,118.06 385.70,117.68 386.30,117.14 386.90,116.73 387.50,116.69 388.10,116.54 388.70,116.08 389.30,115.43 389.90,115.47 390.50,115.31 391.10,114.70 391.70,114.48 392.30,114.41 392.90,114.20 393.50,113.65 394.10,113.16 394.70,112.80 395.30,112.16 395.90,111.66 396.50,111.23 397.10,111.20 397.70,110.78 398.30,110.55 398.90,110.18 399.50,109.94 400.10,109.44 400.70,109.02 401.30,109.37 401.90,109.03 402.50,108.59 403.10,108.65 403.70,108.68 404.30,108.14 404.90,108.06 405.50,107.72 406.10,107.54 406.70,106.97 407.30,106.52 407.90,106.78 408.50,106.61 409.10,106.04 409.70,105.57 410.30,104.86 410.90,104.59 411.50,103.93 412.10,103.66 412.70,103.09 413.30,102.51 413.90,101.98 414.50,100.87 415.10,99.80 415.70,99.03 416.30,98.29 416.90,97.49 417.50,96.72 418.10,96.34 418.70,96.02 419.30,95.22 419.90,94.82 420.50,94.24 421.10,93.01 421.70,92.41 422.30,91.63 422.90,90.69 423.50,90.45 424.10,89.48 424.70,88.83 425.30,88.17 425.90,87.68 426.50,86.84 427.10,85.86 427.70,85.05 428.30,84.09 428.90,83.78 429.50,83.24 430.10,82.01 430.70,80.81 431.30,79.88 431.90,79.03 432.50,78.54 433.10,77.91 433.70,77.20 434.30,75.97 434.90,75.58 435.50,75.07 436.10,74.47 436.70,74.13 437.30,73.03 437.90,72.28 438.50,72.07 439.10,71.84 439.70,71.30 440.30,70.53 440.90,70.11 441.50,69.78 442.10,68.94 442.70,68.46 443.30,67.96 443.90,67.43 444.50,67.22 445.10,66.72 445.70,66.35 446.30,65.91 446.90,65.88 447.50,65.19 448.10,65.12 448.70,64.50 449.30,63.85 449.90,63.91 450.50,63.19 451.10,63.09 451.70,62.75 452.30,62.34 452.90,61.34 453.50,60.79 454.10,59.99 454.70,59.90 455.30,59.52 455.90,58.91 456.50,58.23 457.10,57.55 457.70,57.31 458.30,56.71 458.90,56.27 459.50,55.46 460.10,54.87 460.70,54.22 461.30,54.12 461.90,53.72 462.50,52.99 463.10,52.91 463.70,52.21 464.30,51.72 464.90,51.07 465.50,50.60 466.10,50.54 466.70,49.96 467.30,49.34 467.90,49.07 468.50,48.63 469.10,48.64 469.70,47.91 470.30,47.97 470.90,47.15 471.50,47.12 472.10,46.71 472.70,45.95 473.30,45.51 473.90,44.89 474.50,44.29 475.10,43.69 475.70,43.29 476.30,43.34 476.90,43.19 477.50,42.91 478.10,42.08 478.70,41.80 479.30,42.04 479.50,41.53"/>
<text x="6.80" y="173.70" font-size="11.3" font-weight="bold" fill="#000" >D</text>
<line x1="43.30" y1="178.00" x2="43.30" y2="276.65" stroke="#231f20" stroke-width="1.15"/>
<line x1="42.75" y1="276.10" x2="160.00" y2="276.10" stroke="#231f20" stroke-width="1.15"/>
<line x1="40.30" y1="276.10" x2="43.30" y2="276.10" stroke="#231f20" stroke-width="1"/>
<text x="37.30" y="278.45" font-size="7.8" text-anchor="end" fill="#231f20" stroke="#231f20" stroke-width="0.22" >0</text>
<line x1="40.30" y1="257.00" x2="43.30" y2="257.00" stroke="#231f20" stroke-width="1"/>
<text x="37.30" y="259.35" font-size="7.8" text-anchor="end" fill="#231f20" stroke="#231f20" stroke-width="0.22" >100</text>
<line x1="40.30" y1="237.90" x2="43.30" y2="237.90" stroke="#231f20" stroke-width="1"/>
<text x="37.30" y="240.25" font-size="7.8" text-anchor="end" fill="#231f20" stroke="#231f20" stroke-width="0.22" >200</text>
<line x1="40.30" y1="218.80" x2="43.30" y2="218.80" stroke="#231f20" stroke-width="1"/>
<text x="37.30" y="221.15" font-size="7.8" text-anchor="end" fill="#231f20" stroke="#231f20" stroke-width="0.22" >300</text>
<line x1="40.30" y1="199.70" x2="43.30" y2="199.70" stroke="#231f20" stroke-width="1"/>
<text x="37.30" y="202.05" font-size="7.8" text-anchor="end" fill="#231f20" stroke="#231f20" stroke-width="0.22" >400</text>
<line x1="40.30" y1="180.60" x2="43.30" y2="180.60" stroke="#231f20" stroke-width="1"/>
<text x="37.30" y="182.95" font-size="7.8" text-anchor="end" fill="#231f20" stroke="#231f20" stroke-width="0.22" >500</text>
<line x1="43.30" y1="276.10" x2="43.30" y2="278.70" stroke="#231f20" stroke-width="1"/>
<text x="43.30" y="289.00" font-size="7.8" text-anchor="middle" fill="#231f20" stroke="#231f20" stroke-width="0.22" >0</text>
<line x1="81.37" y1="276.10" x2="81.37" y2="278.70" stroke="#231f20" stroke-width="1"/>
<text x="81.37" y="289.00" font-size="7.8" text-anchor="middle" fill="#231f20" stroke="#231f20" stroke-width="0.22" >60</text>
<line x1="119.44" y1="276.10" x2="119.44" y2="278.70" stroke="#231f20" stroke-width="1"/>
<text x="119.44" y="289.00" font-size="7.8" text-anchor="middle" fill="#231f20" stroke="#231f20" stroke-width="0.22" >120</text>
<line x1="157.51" y1="276.10" x2="157.51" y2="278.70" stroke="#231f20" stroke-width="1"/>
<text x="157.51" y="289.00" font-size="7.8" text-anchor="middle" fill="#231f20" stroke="#231f20" stroke-width="0.22" >180</text>
<text x="101.90" y="302.10" font-size="9.5" text-anchor="middle" textLength="25.40" lengthAdjust="spacingAndGlyphs" fill="#231f20" stroke="#231f20" stroke-width="0.22" >Time (s)</text>
<g transform="translate(18.80 264.70) rotate(-90)">
<text x="0" y="0" font-size="8.6" textLength="77.70" lengthAdjust="spacingAndGlyphs" fill="#231f20" stroke="#231f20" stroke-width="0.22">Mean fibrin area (μm<tspan font-size="6.8" dy="-3.6">2</tspan><tspan dy="3.6">)</tspan></text>
</g>
<line x1="49.30" y1="187.50" x2="57.70" y2="187.50" stroke="#4e2475" stroke-width="1.25"/>
<line x1="49.30" y1="198.90" x2="57.70" y2="198.90" stroke="#ae0e34" stroke-width="1.25"/>
<text x="60.90" y="190.00" font-size="8.0" textLength="31.80" lengthAdjust="spacingAndGlyphs" fill="#231f20" stroke="#231f20" stroke-width="0.14" >Wild type</text>
<text x="60.90" y="201.30" font-size="8.0" textLength="21.70" lengthAdjust="spacingAndGlyphs" fill="#231f20" stroke="#231f20" stroke-width="0.14" >RGS10</text>
<text x="83.10" y="198.80" font-size="5.6" textLength="6.30" lengthAdjust="spacingAndGlyphs" fill="#231f20" stroke="#231f20" stroke-width="0.14" >-/-</text>
<text x="90.50" y="201.30" font-size="8.0" textLength="7.90" lengthAdjust="spacingAndGlyphs" fill="#231f20" stroke="#231f20" stroke-width="0.14" >18</text>
<text x="98.90" y="198.80" font-size="5.6" textLength="6.20" lengthAdjust="spacingAndGlyphs" fill="#231f20" stroke="#231f20" stroke-width="0.14" >-/-</text>
<polygon fill="#d78a7e" points="43.50,272.06 44.10,271.50 44.70,271.69 45.30,271.39 45.90,270.16 46.50,269.99 47.10,269.03 47.70,268.38 48.30,267.16 48.90,267.54 49.50,266.13 50.10,266.32 50.70,265.09 51.30,264.99 51.90,264.81 52.50,263.33 53.10,263.04 53.70,263.27 54.30,261.97 54.90,261.88 55.50,261.22 56.10,260.52 56.70,259.58 57.30,259.02 57.90,258.65 58.50,257.34 59.10,256.57 59.70,256.18 60.30,255.27 60.90,254.47 61.50,253.27 62.10,252.29 62.70,251.25 63.30,250.84 63.90,250.43 64.50,249.14 65.10,248.47 65.70,247.69 66.30,247.41 66.90,246.23 67.50,246.06 68.10,245.20 68.70,244.24 69.30,243.69 69.90,243.13 70.50,242.05 71.10,241.81 71.70,241.04 72.30,240.99 72.90,240.29 73.50,240.28 74.10,239.17 74.70,238.55 75.30,239.08 75.90,238.62 76.50,238.56 77.10,237.87 77.70,237.66 78.30,237.05 78.90,237.04 79.50,236.99 80.10,235.81 80.70,235.66 81.30,235.71 81.90,235.29 82.50,235.19 83.10,234.89 83.70,234.19 84.30,233.92 84.90,232.81 85.50,232.87 86.10,232.31 86.70,232.25 87.30,231.20 87.90,231.17 88.50,231.12 89.10,230.81 89.70,230.14 90.30,229.55 90.90,228.77 91.50,228.39 92.10,228.47 92.70,227.14 93.30,227.29 93.90,226.54 94.50,227.03 95.10,225.91 95.70,225.85 96.30,225.14 96.90,224.80 97.50,224.62 98.10,223.38 98.70,223.28 99.30,222.76 99.90,222.03 100.50,222.33 101.10,222.21 101.70,221.89 102.30,221.54 102.90,220.73 103.50,220.95 104.10,220.57 104.70,219.62 105.30,218.93 105.90,218.83 106.50,218.15 107.10,218.17 107.70,217.87 108.30,217.42 108.90,217.20 109.50,216.87 110.10,216.11 110.70,216.44 111.30,216.22 111.90,215.33 112.50,214.91 113.10,214.71 113.70,214.93 114.30,214.84 114.90,214.35 115.20,213.75 115.20,219.49 114.90,220.05 114.30,220.32 113.70,219.93 113.10,219.84 112.50,220.56 111.90,221.16 111.30,221.11 110.70,221.49 110.10,222.20 109.50,222.07 108.90,222.69 108.30,222.74 107.70,223.08 107.10,223.32 106.50,224.07 105.90,223.54 105.30,224.46 104.70,225.26 104.10,226.42 103.50,226.18 102.90,226.79 102.30,227.23 101.70,227.40 101.10,227.70 100.50,228.32 99.90,227.78 99.30,228.16 98.70,228.94 98.10,229.05 97.50,230.24 96.90,230.56 96.30,230.63 95.70,231.29 95.10,231.35 94.50,232.55 93.90,232.87 93.30,233.36 92.70,233.10 92.10,233.27 91.50,234.26 90.90,234.95 90.30,235.46 89.70,235.50 89.10,236.10 88.50,237.01 87.90,237.08 87.30,237.43 86.70,237.49 86.10,237.94 85.50,238.73 84.90,239.22 84.30,239.40 83.70,240.11 83.10,240.10 82.50,241.29 81.90,241.12 81.30,241.73 80.70,241.54 80.10,241.80 79.50,242.70 78.90,242.95 78.30,243.76 77.70,243.83 77.10,243.63 76.50,243.92 75.90,244.58 75.30,244.17 74.70,245.08 74.10,244.69 73.50,245.75 72.90,246.01 72.30,246.25 71.70,246.41 71.10,247.08 70.50,247.48 69.90,247.81 69.30,249.25 68.70,249.43 68.10,249.88 67.50,250.99 66.90,251.15 66.30,251.83 65.70,252.69 65.10,253.92 64.50,254.29 63.90,254.82 63.30,256.02 62.70,255.89 62.10,256.76 61.50,257.40 60.90,258.56 60.30,259.71 59.70,259.63 59.10,260.98 58.50,261.61 57.90,262.60 57.30,262.24 56.70,262.56 56.10,263.56 55.50,264.36 54.90,265.32 54.30,265.66 53.70,265.62 53.10,266.13 52.50,266.58 51.90,267.30 51.30,267.04 50.70,267.46 50.10,268.24 49.50,269.22 48.90,269.39 48.30,270.13 47.70,270.22 47.10,271.27 46.50,272.13 45.90,272.69 45.30,273.56 44.70,273.18 44.10,273.32 43.50,273.83"/>
<polyline fill="none" stroke="#ae0e34" stroke-width="1.15" stroke-linejoin="round" points="43.50,273.30 44.10,272.63 44.70,272.70 45.30,272.50 45.90,271.42 46.50,270.93 47.10,270.29 47.70,269.29 48.30,268.72 48.90,268.44 49.50,267.72 50.10,267.43 50.70,266.57 51.30,266.01 51.90,265.76 52.50,265.06 53.10,264.52 53.70,264.40 54.30,263.80 54.90,263.44 55.50,262.60 56.10,261.84 56.70,261.29 57.30,260.57 57.90,260.43 58.50,259.52 59.10,258.89 59.70,257.88 60.30,257.26 60.90,256.43 61.50,255.64 62.10,254.63 62.70,253.79 63.30,253.50 63.90,252.67 64.50,251.83 65.10,251.03 65.70,250.35 66.30,249.61 66.90,248.74 67.50,248.36 68.10,247.57 68.70,246.71 69.30,246.37 69.90,245.49 70.50,244.92 71.10,244.78 71.70,243.96 72.30,243.55 72.90,243.40 73.50,243.09 74.10,242.27 74.70,241.82 75.30,241.70 75.90,241.29 76.50,241.39 77.10,240.79 77.70,240.86 78.30,240.44 78.90,239.87 79.50,239.58 80.10,239.03 80.70,238.98 81.30,238.45 81.90,238.44 82.50,238.02 83.10,237.45 83.70,236.88 84.30,236.63 84.90,236.01 85.50,235.94 86.10,235.16 86.70,234.84 87.30,234.49 87.90,233.92 88.50,233.79 89.10,233.26 89.70,232.97 90.30,232.56"/>
<polygon fill="#a08abb" stroke="#fff" stroke-width="0.7" stroke-linejoin="round" points="43.50,275.58 44.10,274.77 44.70,275.41 45.30,274.56 45.90,274.65 46.50,274.17 47.10,274.33 47.70,273.76 48.30,273.43 48.90,273.51 49.50,272.72 50.10,272.83 50.70,272.57 51.30,272.60 51.90,271.80 52.50,271.54 53.10,270.62 53.70,270.72 54.30,269.97 54.90,269.99 55.50,269.34 56.10,268.87 56.70,268.41 57.30,268.56 57.90,268.21 58.50,268.10 59.10,267.28 59.70,266.88 60.30,266.66 60.90,265.87 61.50,265.94 62.10,264.24 62.70,264.38 63.30,262.70 63.90,262.82 64.50,261.93 65.10,261.24 65.70,259.98 66.30,259.26 66.90,259.09 67.50,258.31 68.10,257.68 68.70,256.25 69.30,256.30 69.90,254.47 70.50,254.09 71.10,253.86 71.70,252.66 72.30,252.46 72.90,252.19 73.50,251.06 74.10,250.12 74.70,249.74 75.30,249.13 75.90,248.77 76.50,247.53 77.10,246.32 77.70,245.81 78.30,245.44 78.90,245.01 79.50,244.87 80.10,243.77 80.70,243.68 81.30,242.45 81.90,242.15 82.50,241.53 83.10,241.42 83.70,240.75 84.30,240.09 84.90,240.11 85.50,239.05 86.10,238.45 86.70,237.32 87.30,237.83 87.90,236.91 88.50,237.51 89.10,236.56 89.70,235.81 90.30,235.18 90.90,234.67 91.50,234.70 92.10,234.11 92.70,232.58 93.30,233.11 93.90,231.79 94.50,231.73 95.10,231.09 95.70,231.00 96.30,230.40 96.90,229.48 97.50,229.39 98.10,229.16 98.70,228.36 99.30,227.24 99.90,227.23 100.50,226.77 101.10,227.02 101.70,226.30 102.30,225.31 102.90,224.50 103.50,224.72 104.10,224.28 104.70,223.10 105.30,223.42 105.90,223.34 106.50,222.85 107.10,222.01 107.70,221.50 108.30,221.50 108.90,220.45 109.50,219.91 110.10,219.22 110.70,219.76 111.30,219.08 111.90,218.62 112.50,218.25 113.10,217.82 113.70,216.79 114.30,216.78 114.90,216.69 115.50,216.64 116.10,215.90 116.70,215.19 117.30,214.97 117.90,214.03 118.50,213.70 119.10,213.53 119.70,213.51 120.30,212.77 120.90,212.29 121.50,212.15 122.10,212.12 122.70,211.46 123.30,210.90 123.90,210.05 124.50,210.10 125.10,209.69 125.70,208.85 126.30,209.14 126.90,208.74 127.50,209.21 128.10,208.12 128.70,208.49 129.30,207.50 129.90,207.34 130.50,207.27 131.10,207.09 131.70,206.36 132.30,207.52 132.90,206.82 133.50,206.94 134.10,206.26 134.70,206.15 135.30,205.71 135.90,205.49 136.50,205.13 137.10,205.52 137.70,205.33 138.30,205.29 138.90,205.38 139.50,204.78 140.10,205.54 140.70,204.77 141.30,204.26 141.90,203.32 142.50,203.53 143.10,203.57 143.70,203.34 144.30,202.95 144.90,202.70 145.50,202.26 146.10,201.93 146.70,201.59 147.30,200.98 147.90,200.56 148.50,200.07 149.10,199.60 149.70,198.96 150.30,198.44 150.90,198.27 151.50,198.08 152.10,197.50 152.70,197.41 153.10,197.33 153.10,215.03 152.70,215.21 152.10,215.31 151.50,215.33 150.90,215.84 150.30,216.16 149.70,216.09 149.10,216.04 148.50,217.40 147.90,217.51 147.30,218.28 146.70,217.83 146.10,218.03 145.50,219.23 144.90,219.14 144.30,218.97 143.70,219.34 143.10,219.38 142.50,219.42 141.90,219.12 141.30,219.34 140.70,220.27 140.10,219.97 139.50,220.26 138.90,220.89 138.30,220.31 137.70,220.78 137.10,220.01 136.50,220.23 135.90,220.45 135.30,220.75 134.70,221.19 134.10,221.63 133.50,221.79 132.90,221.71 132.30,222.11 131.70,221.48 131.10,221.87 130.50,222.50 129.90,222.02 129.30,222.34 128.70,223.28 128.10,223.21 127.50,223.96 126.90,223.67 126.30,223.57 125.70,223.53 125.10,224.68 124.50,224.81 123.90,225.46 123.30,225.37 122.70,225.97 122.10,226.40 121.50,226.50 120.90,226.65 120.30,227.69 119.70,228.20 119.10,228.27 118.50,228.61 117.90,228.71 117.30,228.71 116.70,229.54 116.10,230.12 115.50,229.74 114.90,230.31 114.30,230.74 113.70,230.90 113.10,231.31 112.50,232.13 111.90,231.66 111.30,231.79 110.70,231.93 110.10,232.39 109.50,233.15 108.90,232.80 108.30,233.15 107.70,233.61 107.10,233.60 106.50,234.48 105.90,235.04 105.30,234.75 104.70,234.99 104.10,235.23 103.50,235.60 102.90,235.30 102.30,236.06 101.70,236.41 101.10,237.32 100.50,236.87 99.90,237.68 99.30,237.39 98.70,237.92 98.10,238.30 97.50,238.66 96.90,238.52 96.30,238.95 95.70,239.50 95.10,239.98 94.50,240.76 93.90,240.92 93.30,241.60 92.70,241.21 92.10,242.52 91.50,242.71 90.90,242.95 90.30,243.58 89.70,243.04 89.10,243.55 88.50,244.18 87.90,244.40 87.30,244.48 86.70,245.09 86.10,245.55 85.50,245.53 84.90,246.39 84.30,247.03 83.70,247.44 83.10,247.48 82.50,248.32 81.90,248.26 81.30,249.42 80.70,250.15 80.10,249.81 79.50,250.47 78.90,250.89 78.30,252.00 77.70,251.57 77.10,252.15 76.50,252.87 75.90,254.38 75.30,254.45 74.70,254.35 74.10,255.12 73.50,255.56 72.90,256.45 72.30,257.19 71.70,257.81 71.10,258.60 70.50,259.26 69.90,259.52 69.30,259.88 68.70,260.89 68.10,261.50 67.50,262.89 66.90,262.91 66.30,262.85 65.70,263.46 65.10,265.14 64.50,265.79 63.90,266.11 63.30,266.18 62.70,266.59 62.10,267.28 61.50,268.17 60.90,268.86 60.30,269.13 59.70,269.66 59.10,269.98 58.50,270.33 57.90,270.41 57.30,270.85 56.70,271.19 56.10,271.51 55.50,271.42 54.90,271.61 54.30,272.40 53.70,272.98 53.10,273.27 52.50,273.50 51.90,273.63 51.30,274.03 50.70,273.88 50.10,274.16 49.50,274.50 48.90,274.91 48.30,274.97 47.70,275.40 47.10,275.97 46.50,275.51 45.90,275.41 45.30,276.41 44.70,276.23 44.10,276.35 43.50,276.43"/>
<polyline fill="none" stroke="#4e2475" stroke-width="1.15" stroke-linejoin="round" points="43.50,275.77 44.10,275.59 44.70,275.56 45.30,275.54 45.90,274.93 46.50,275.15 47.10,274.96 47.70,274.33 48.30,274.41 48.90,274.03 49.50,273.57 50.10,273.77 50.70,273.47 51.30,273.33 51.90,272.68 52.50,272.65 53.10,271.97 53.70,271.60 54.30,271.34 54.90,270.78 55.50,270.72 56.10,270.23 56.70,269.84 57.30,269.72 57.90,269.24 58.50,269.10 59.10,268.60 59.70,268.28 60.30,267.66 60.90,267.33 61.50,266.86 62.10,265.85 62.70,265.46 63.30,264.67 63.90,264.27 64.50,263.70 65.10,263.20 65.70,262.12 66.30,261.42 66.90,260.97 67.50,260.54 68.10,259.81 68.70,258.61 69.30,258.06 69.90,257.08 70.50,256.58 71.10,256.17 71.70,255.17 72.30,254.92 72.90,254.31 73.50,253.40 74.10,252.60 74.70,252.08 75.30,251.80 75.90,251.19 76.50,250.27 77.10,249.46 77.70,248.84 78.30,248.74 78.90,247.98 79.50,247.58 80.10,246.91 80.70,246.58 81.30,245.93 81.90,245.16 82.50,245.01 83.10,244.43 83.70,243.97 84.30,243.55 84.90,243.21 85.50,242.18 86.10,241.71 86.70,241.18 87.30,241.02 87.90,241.05 88.50,240.85 89.10,240.03 89.70,239.50 90.30,239.45 90.90,239.07 91.50,238.42 92.10,237.92 92.70,237.23 93.30,237.14 93.90,236.56 94.50,236.40 95.10,235.93 95.70,235.11 96.30,234.67 96.90,234.17 97.50,234.20 98.10,233.80 98.70,233.04 99.30,232.56 99.90,232.27 100.50,232.02 101.10,231.79 101.70,231.36 102.30,230.93 102.90,230.30 103.50,230.20 104.10,229.79 104.70,229.18 105.30,228.99 105.90,229.08 106.50,228.28 107.10,227.76 107.70,227.67 108.30,227.16 108.90,226.72 109.50,226.46 110.10,225.98 110.70,225.77 111.30,225.44 111.90,225.39 112.50,225.20 113.10,224.25 113.70,223.96 114.30,223.77 114.90,223.56 115.50,223.20 116.10,222.74 116.70,222.32 117.30,221.73 117.90,221.20 118.50,221.11 119.10,220.94 119.70,220.72 120.30,220.25 120.90,219.58 121.50,219.38 122.10,219.09 122.70,218.60 123.30,218.27 123.90,217.73 124.50,217.43 125.10,217.03 125.70,216.45 126.30,216.23 126.90,216.00 127.50,216.24 128.10,215.92 128.70,215.59 129.30,215.24 129.90,214.97 130.50,214.82 131.10,214.49 131.70,214.15 132.30,214.50 132.90,214.30 133.50,214.11 134.10,214.03 134.70,213.72 135.30,213.40 135.90,213.10 136.50,213.04 137.10,212.93 137.70,213.10 138.30,212.98 138.90,213.10 139.50,212.65 140.10,212.73 140.70,212.42 141.30,211.81 141.90,211.45 142.50,211.44 143.10,211.61 143.70,211.14 144.30,211.08 144.90,210.69 145.50,210.67 146.10,209.94 146.70,209.71 147.30,209.71 147.90,209.08 148.50,208.55 149.10,207.92 149.70,207.50 150.30,207.17 150.90,207.10 151.50,206.55 152.10,206.40 152.70,206.09 153.10,206.12"/>
<circle cx="152.6" cy="217.7" r="0.8" fill="#d78a7e"/>
<text x="170.50" y="173.80" font-size="11.3" font-weight="bold" fill="#000" >E</text>
<line x1="210.60" y1="188.40" x2="210.60" y2="276.55" stroke="#231f20" stroke-width="1.15"/>
<line x1="210.05" y1="276.00" x2="241.40" y2="276.00" stroke="#231f20" stroke-width="1.15"/>
<line x1="207.60" y1="276.00" x2="210.60" y2="276.00" stroke="#231f20" stroke-width="1"/>
<text x="204.80" y="278.35" font-size="7.8" text-anchor="end" fill="#231f20" stroke="#231f20" stroke-width="0.22" >0</text>
<line x1="207.60" y1="247.90" x2="210.60" y2="247.90" stroke="#231f20" stroke-width="1"/>
<text x="204.80" y="250.25" font-size="7.8" text-anchor="end" fill="#231f20" stroke="#231f20" stroke-width="0.22" >500</text>
<line x1="207.60" y1="219.80" x2="210.60" y2="219.80" stroke="#231f20" stroke-width="1"/>
<text x="204.80" y="222.15" font-size="7.8" text-anchor="end" fill="#231f20" stroke="#231f20" stroke-width="0.22" >1000</text>
<line x1="207.60" y1="191.70" x2="210.60" y2="191.70" stroke="#231f20" stroke-width="1"/>
<text x="204.80" y="194.05" font-size="7.8" text-anchor="end" fill="#231f20" stroke="#231f20" stroke-width="0.22" >1500</text>
<line x1="225.90" y1="276.00" x2="225.90" y2="278.40" stroke="#231f20" stroke-width="1"/>
<line x1="219.50" y1="233.40" x2="219.50" y2="239.00" stroke="#6b4a8c" stroke-width="1.1"/>
<line x1="217.00" y1="233.40" x2="222.00" y2="233.40" stroke="#6b4a8c" stroke-width="1.1"/>
<rect x="215.30" y="238.50" width="8.40" height="37.50" fill="#4f2468" />
<line x1="232.40" y1="202.90" x2="232.40" y2="210.40" stroke="#a8002e" stroke-width="1.1"/>
<line x1="229.90" y1="202.90" x2="234.90" y2="202.90" stroke="#a8002e" stroke-width="1.1"/>
<rect x="228.00" y="209.90" width="8.80" height="66.10" fill="#a8002e" />
<text x="215.70" y="288.70" font-size="8.2" textLength="20.30" lengthAdjust="spacingAndGlyphs" fill="#231f20" stroke="#231f20" stroke-width="0.22" >CD41</text>
<text x="225.55" y="186.70" font-size="7.2" text-anchor="middle" textLength="22.50" lengthAdjust="spacingAndGlyphs" fill="#231f20" stroke="#231f20" stroke-width="0.22" >0.0004</text>
<line x1="219.10" y1="191.70" x2="232.20" y2="191.70" stroke="#3d3d3d" stroke-width="1.2"/>
<line x1="263.70" y1="188.40" x2="263.70" y2="276.55" stroke="#231f20" stroke-width="1.15"/>
<line x1="263.15" y1="276.00" x2="295.00" y2="276.00" stroke="#231f20" stroke-width="1.15"/>
<line x1="260.70" y1="276.00" x2="263.70" y2="276.00" stroke="#231f20" stroke-width="1"/>
<text x="257.90" y="278.35" font-size="7.8" text-anchor="end" fill="#231f20" stroke="#231f20" stroke-width="0.22" >0</text>
<line x1="260.70" y1="254.75" x2="263.70" y2="254.75" stroke="#231f20" stroke-width="1"/>
<text x="257.90" y="257.10" font-size="7.8" text-anchor="end" fill="#231f20" stroke="#231f20" stroke-width="0.22" >100</text>
<line x1="260.70" y1="233.50" x2="263.70" y2="233.50" stroke="#231f20" stroke-width="1"/>
<text x="257.90" y="235.85" font-size="7.8" text-anchor="end" fill="#231f20" stroke="#231f20" stroke-width="0.22" >200</text>
<line x1="260.70" y1="212.25" x2="263.70" y2="212.25" stroke="#231f20" stroke-width="1"/>
<text x="257.90" y="214.60" font-size="7.8" text-anchor="end" fill="#231f20" stroke="#231f20" stroke-width="0.22" >300</text>
<line x1="260.70" y1="191.00" x2="263.70" y2="191.00" stroke="#231f20" stroke-width="1"/>
<text x="257.90" y="193.35" font-size="7.8" text-anchor="end" fill="#231f20" stroke="#231f20" stroke-width="0.22" >400</text>
<line x1="279.20" y1="276.00" x2="279.20" y2="278.40" stroke="#231f20" stroke-width="1"/>
<line x1="272.62" y1="246.25" x2="272.62" y2="251.00" stroke="#6b4a8c" stroke-width="1.1"/>
<line x1="270.12" y1="246.25" x2="275.12" y2="246.25" stroke="#6b4a8c" stroke-width="1.1"/>
<rect x="268.50" y="250.50" width="8.25" height="25.50" fill="#4f2468" />
<line x1="285.88" y1="214.50" x2="285.88" y2="221.75" stroke="#a8002e" stroke-width="1.1"/>
<line x1="283.38" y1="214.50" x2="288.38" y2="214.50" stroke="#a8002e" stroke-width="1.1"/>
<rect x="281.75" y="221.25" width="8.25" height="54.75" fill="#a8002e" />
<text x="261.90" y="288.70" font-size="8.2" textLength="34.20" lengthAdjust="spacingAndGlyphs" fill="#231f20" stroke="#231f20" stroke-width="0.22" >P-selectin</text>
<text x="278.45" y="186.70" font-size="7.2" text-anchor="middle" textLength="21.90" lengthAdjust="spacingAndGlyphs" fill="#231f20" stroke="#231f20" stroke-width="0.22" >0.0001</text>
<line x1="272.50" y1="191.70" x2="284.90" y2="191.70" stroke="#3d3d3d" stroke-width="1.2"/>
<line x1="318.60" y1="188.40" x2="318.60" y2="276.55" stroke="#231f20" stroke-width="1.15"/>
<line x1="318.05" y1="276.00" x2="349.00" y2="276.00" stroke="#231f20" stroke-width="1.15"/>
<line x1="315.60" y1="276.00" x2="318.60" y2="276.00" stroke="#231f20" stroke-width="1"/>
<text x="312.70" y="278.35" font-size="7.8" text-anchor="end" fill="#231f20" stroke="#231f20" stroke-width="0.22" >0</text>
<line x1="315.60" y1="258.90" x2="318.60" y2="258.90" stroke="#231f20" stroke-width="1"/>
<text x="312.70" y="261.25" font-size="7.8" text-anchor="end" fill="#231f20" stroke="#231f20" stroke-width="0.22" >100</text>
<line x1="315.60" y1="241.80" x2="318.60" y2="241.80" stroke="#231f20" stroke-width="1"/>
<text x="312.70" y="244.15" font-size="7.8" text-anchor="end" fill="#231f20" stroke="#231f20" stroke-width="0.22" >200</text>
<line x1="315.60" y1="224.70" x2="318.60" y2="224.70" stroke="#231f20" stroke-width="1"/>
<text x="312.70" y="227.05" font-size="7.8" text-anchor="end" fill="#231f20" stroke="#231f20" stroke-width="0.22" >300</text>
<line x1="315.60" y1="207.60" x2="318.60" y2="207.60" stroke="#231f20" stroke-width="1"/>
<text x="312.70" y="209.95" font-size="7.8" text-anchor="end" fill="#231f20" stroke="#231f20" stroke-width="0.22" >400</text>
<line x1="315.60" y1="190.50" x2="318.60" y2="190.50" stroke="#231f20" stroke-width="1"/>
<text x="312.70" y="192.85" font-size="7.8" text-anchor="end" fill="#231f20" stroke="#231f20" stroke-width="0.22" >500</text>
<line x1="334.00" y1="276.00" x2="334.00" y2="278.40" stroke="#231f20" stroke-width="1"/>
<line x1="327.70" y1="204.30" x2="327.70" y2="213.90" stroke="#6b4a8c" stroke-width="1.1"/>
<line x1="325.20" y1="204.30" x2="330.20" y2="204.30" stroke="#6b4a8c" stroke-width="1.1"/>
<rect x="323.50" y="213.40" width="8.40" height="62.60" fill="#4f2468" />
<line x1="340.55" y1="213.70" x2="340.55" y2="220.40" stroke="#a8002e" stroke-width="1.1"/>
<line x1="338.05" y1="213.70" x2="343.05" y2="213.70" stroke="#a8002e" stroke-width="1.1"/>
<rect x="336.20" y="219.90" width="8.70" height="56.10" fill="#a8002e" />
<text x="324.10" y="288.70" font-size="8.2" textLength="19.90" lengthAdjust="spacingAndGlyphs" fill="#231f20" stroke="#231f20" stroke-width="0.22" >Fibrin</text>
<text x="333.90" y="186.70" font-size="7.2" text-anchor="middle" textLength="10.00" lengthAdjust="spacingAndGlyphs" fill="#231f20" stroke="#231f20" stroke-width="0.22" >NS</text>
<line x1="327.00" y1="191.70" x2="340.10" y2="191.70" stroke="#3d3d3d" stroke-width="1.2"/>
<g transform="translate(181.70 268.00) rotate(-90)">
<text x="0" y="0" font-size="8.6" textLength="81.00" lengthAdjust="spacingAndGlyphs" fill="#231f20" stroke="#231f20" stroke-width="0.22">Mean endpoint area (μm<tspan font-size="6.8" dy="-3.6">2</tspan><tspan dy="3.6">)</tspan></text>
</g>
<rect x="233.00" y="296.80" width="6.00" height="2.70" fill="#4f2468" />
<rect x="233.00" y="307.30" width="6.00" height="2.70" fill="#a8002e" />
<text x="241.70" y="300.10" font-size="8.0" textLength="32.20" lengthAdjust="spacingAndGlyphs" fill="#231f20" stroke="#231f20" stroke-width="0.14" >Wild type</text>
<text x="241.70" y="310.90" font-size="8.0" textLength="22.10" lengthAdjust="spacingAndGlyphs" fill="#231f20" stroke="#231f20" stroke-width="0.14" >RGS10</text>
<text x="264.20" y="308.40" font-size="5.6" textLength="6.10" lengthAdjust="spacingAndGlyphs" fill="#231f20" stroke="#231f20" stroke-width="0.14" >-/-</text>
<text x="271.00" y="310.90" font-size="8.0" textLength="7.70" lengthAdjust="spacingAndGlyphs" fill="#231f20" stroke="#231f20" stroke-width="0.14" >18</text>
<text x="279.50" y="308.40" font-size="5.6" textLength="6.30" lengthAdjust="spacingAndGlyphs" fill="#231f20" stroke="#231f20" stroke-width="0.14" >-/-</text>
<text x="355.50" y="173.80" font-size="11.3" font-weight="bold" fill="#000" >F</text>
<rect x="401.80" y="258.10" width="36.10" height="18.10" fill="#9c84ac" />
<rect x="401.80" y="273.20" width="36.10" height="3.00" fill="#4a1d66" />
<rect x="456.00" y="209.10" width="36.30" height="67.10" fill="#cf8a80" />
<rect x="456.00" y="259.10" width="36.30" height="17.10" fill="#a50026" />
<line x1="383.95" y1="188.70" x2="383.95" y2="276.75" stroke="#231f20" stroke-width="1.15"/>
<line x1="383.40" y1="276.20" x2="510.80" y2="276.20" stroke="#231f20" stroke-width="1.15"/>
<line x1="381.05" y1="276.20" x2="383.95" y2="276.20" stroke="#231f20" stroke-width="1"/>
<text x="378.00" y="278.55" font-size="7.8" text-anchor="end" fill="#231f20" stroke="#231f20" stroke-width="0.22" >0</text>
<line x1="381.05" y1="247.93" x2="383.95" y2="247.93" stroke="#231f20" stroke-width="1"/>
<text x="378.00" y="250.28" font-size="7.8" text-anchor="end" fill="#231f20" stroke="#231f20" stroke-width="0.22" >20</text>
<line x1="381.05" y1="219.66" x2="383.95" y2="219.66" stroke="#231f20" stroke-width="1"/>
<text x="378.00" y="222.01" font-size="7.8" text-anchor="end" fill="#231f20" stroke="#231f20" stroke-width="0.22" >40</text>
<line x1="381.05" y1="191.39" x2="383.95" y2="191.39" stroke="#231f20" stroke-width="1"/>
<text x="378.00" y="193.74" font-size="7.8" text-anchor="end" fill="#231f20" stroke="#231f20" stroke-width="0.22" >60</text>
<line x1="419.80" y1="276.20" x2="419.80" y2="278.50" stroke="#231f20" stroke-width="1"/>
<line x1="474.10" y1="276.20" x2="474.10" y2="278.50" stroke="#231f20" stroke-width="1"/>
<g transform="translate(363.70 281.50) rotate(-90)">
<text x="0" y="0" font-size="9.0" textLength="100.00" lengthAdjust="spacingAndGlyphs" fill="#231f20" stroke="#231f20" stroke-width="0.22">Occlusions (% of total injuries)</text>
</g>
<rect x="393.00" y="213.00" width="4.50" height="4.70" fill="#9c84ac" />
<rect x="397.50" y="213.00" width="4.50" height="4.70" fill="#cf8a80" />
<rect x="393.00" y="224.40" width="4.50" height="4.40" fill="#4a1d66" />
<rect x="397.50" y="224.40" width="4.50" height="4.40" fill="#a50026" />
<text x="405.50" y="217.80" font-size="8.0" textLength="29.30" lengthAdjust="spacingAndGlyphs" fill="#231f20" stroke="#231f20" stroke-width="0.22" >Transient</text>
<text x="405.50" y="228.50" font-size="8.0" textLength="20.50" lengthAdjust="spacingAndGlyphs" fill="#231f20" stroke="#231f20" stroke-width="0.22" >Stable</text>
<line x1="420.00" y1="200.70" x2="474.00" y2="200.70" stroke="#3d3d3d" stroke-width="1.2"/>
<text x="446.85" y="195.50" font-size="7.2" text-anchor="middle" textLength="22.50" lengthAdjust="spacingAndGlyphs" fill="#231f20" stroke="#231f20" stroke-width="0.22" >0.0007</text>
<path d="M401.4,258.6 H399.7 V272.5 H401.4" fill="none" stroke="#231f20" stroke-width="0.95"/>
<path d="M455.1,209.5 H453.3 V258.6 H455.1" fill="none" stroke="#231f20" stroke-width="0.95"/>
<path d="M493.7,259.5 H495.3 V275.6 H493.7" fill="none" stroke="#231f20" stroke-width="0.95"/>
<text x="398.60" y="268.20" font-size="7.8" text-anchor="end" textLength="14.00" lengthAdjust="spacingAndGlyphs" fill="#231f20" stroke="#231f20" stroke-width="0.22" >11.5</text>
<text x="449.80" y="236.90" font-size="7.8" text-anchor="end" textLength="13.70" lengthAdjust="spacingAndGlyphs" fill="#231f20" stroke="#231f20" stroke-width="0.22" >36.0</text>
<text x="499.20" y="269.90" font-size="7.8" textLength="13.70" lengthAdjust="spacingAndGlyphs" fill="#231f20" stroke="#231f20" stroke-width="0.22" >12.0</text>
<text x="443.80" y="273.10" font-size="7.8" textLength="9.80" lengthAdjust="spacingAndGlyphs" fill="#231f20" stroke="#231f20" stroke-width="0.22" >1.9</text>
<path d="M443.8,272.2 L441,273.7" stroke="#231f20" stroke-width="0.8"/>
<path d="M438.7,275.3 L441.6,272.4 L442.7,274.6 Z" fill="#231f20"/>
<text x="402.30" y="289.10" font-size="8.6" textLength="34.20" lengthAdjust="spacingAndGlyphs" fill="#231f20" stroke="#231f20" stroke-width="0.22" >Wild type</text>
<text x="451.00" y="288.90" font-size="8.6" textLength="24.00" lengthAdjust="spacingAndGlyphs" fill="#231f20" stroke="#231f20" stroke-width="0.22" >RGS10</text>
<text x="475.50" y="286.40" font-size="5.6" textLength="6.00" lengthAdjust="spacingAndGlyphs" fill="#231f20" stroke="#231f20" stroke-width="0.22" >-/-</text>
<text x="482.50" y="288.90" font-size="8.6" textLength="8.50" lengthAdjust="spacingAndGlyphs" fill="#231f20" stroke="#231f20" stroke-width="0.22" >18</text>
<text x="491.50" y="286.40" font-size="5.6" textLength="5.20" lengthAdjust="spacingAndGlyphs" fill="#231f20" stroke="#231f20" stroke-width="0.22" >-/-</text>
<rect x="0.00" y="0.00" width="520.00" height="1.10" fill="#000" />
<rect x="0.00" y="0.00" width="1.10" height="321.00" fill="#000" />
<rect x="518.90" y="0.00" width="1.10" height="321.00" fill="#000" />
<rect x="0.00" y="319.60" width="520.00" height="1.40" fill="#000" />
</g>
</svg>
</body></html>
